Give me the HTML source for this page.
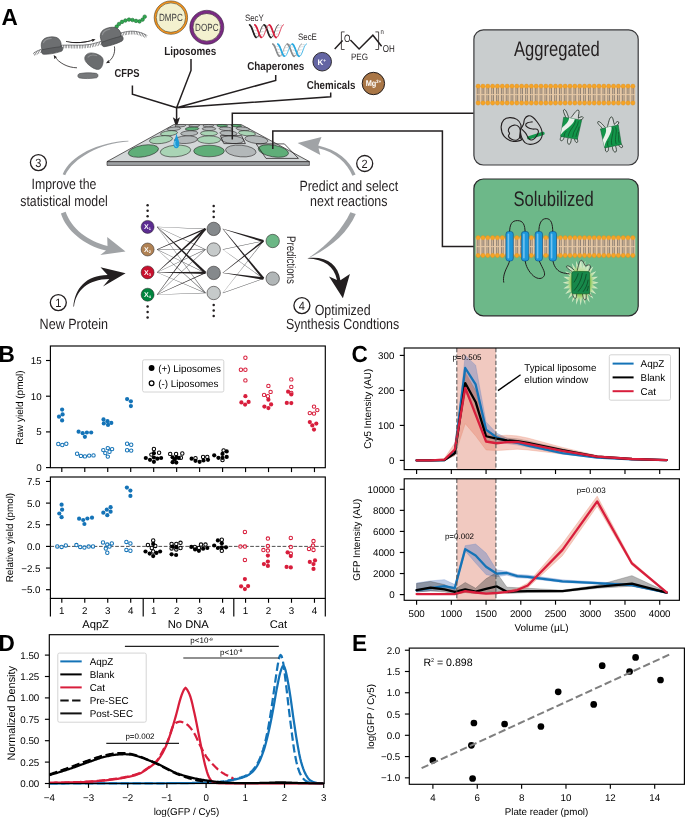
<!DOCTYPE html>
<html lang="en"><head><meta charset="utf-8"><title>Figure</title>
<style>
html,body{margin:0;padding:0;background:#fff;}
body{width:685px;height:818px;overflow:hidden;}
svg{display:block;font-family:"Liberation Sans", sans-serif;will-change:transform;text-rendering:geometricPrecision;}
</style></head><body>
<svg width="685" height="818" viewBox="0 0 685 818">
<rect width="685" height="818" fill="#fff"/>
<text x="0" y="0" font-size="23.3" text-anchor="start" font-weight="bold" fill="#000" transform="translate(1.4 24.5) scale(0.97 1)">A</text>
<path d="M33.9 54.4 C40 50.6 50 47.6 61.5 46.8 C72 46.2 80 47.6 90 46.0 C102 44 110 38.5 121 34.6 C130 31.6 139 32.2 146.6 36.9" stroke="#58595b" stroke-width="3.4" fill="none" stroke-dasharray="0.55 1.05"/>
<path d="M33.9 54.4 C40 50.6 50 47.6 61.5 46.8 C72 46.2 80 47.6 90 46.0 C102 44 110 38.5 121 34.6 C130 31.6 139 32.2 146.6 36.9" stroke="#58595b" stroke-width="0.7" fill="none" transform="translate(0 -1.6)"/>
<circle cx="116.7" cy="26.6" r="1.8" fill="#2fa84f" stroke="#17692f" stroke-width="0.55"/>
<circle cx="119" cy="24" r="1.8" fill="#2fa84f" stroke="#17692f" stroke-width="0.55"/>
<circle cx="122" cy="21.9" r="1.8" fill="#2fa84f" stroke="#17692f" stroke-width="0.55"/>
<circle cx="125.4" cy="20.5" r="1.8" fill="#2fa84f" stroke="#17692f" stroke-width="0.55"/>
<circle cx="129" cy="19.6" r="1.8" fill="#2fa84f" stroke="#17692f" stroke-width="0.55"/>
<circle cx="132.5" cy="20" r="1.8" fill="#2fa84f" stroke="#17692f" stroke-width="0.55"/>
<circle cx="136" cy="20.9" r="1.8" fill="#2fa84f" stroke="#17692f" stroke-width="0.55"/>
<circle cx="139.5" cy="21.4" r="1.8" fill="#2fa84f" stroke="#17692f" stroke-width="0.55"/>
<circle cx="142.6" cy="19.6" r="1.8" fill="#2fa84f" stroke="#17692f" stroke-width="0.55"/>
<circle cx="144.7" cy="16.7" r="1.8" fill="#2fa84f" stroke="#17692f" stroke-width="0.55"/>
<g transform="translate(51.3 46.6) rotate(-5) scale(1)"><path d="M-8.6 1.6 C-4 0.4 4 -0.2 9.6 0.2 C11.8 0.6 11.8 4.8 9.6 5.6 C3 7.2 -4 7.6 -8.4 7.0 C-10.8 6.4 -10.8 2.4 -8.6 1.6 Z" fill="#5f6163" stroke="#414244" stroke-width="0.6"/><path d="M-9.4 2.4 C-10.8 -2.6 -9.6 -8.4 -3.5 -9.4 C1 -10.2 6.4 -9.6 8.6 -6.4 C10.4 -3.8 10.4 -0.6 9.2 1.0 C4 1.0 -4 1.6 -9.4 2.4 Z" fill="#6d6f71" stroke="#414244" stroke-width="0.6"/><path d="M-7.4 -4.6 C-6.4 -7.2 -3 -8.2 0.6 -8.2" stroke="#8f9193" stroke-width="1.1" fill="none" stroke-linecap="round"/></g>
<g transform="translate(111 37.6) rotate(-13) scale(1.04)"><path d="M-8.6 1.6 C-4 0.4 4 -0.2 9.6 0.2 C11.8 0.6 11.8 4.8 9.6 5.6 C3 7.2 -4 7.6 -8.4 7.0 C-10.8 6.4 -10.8 2.4 -8.6 1.6 Z" fill="#5f6163" stroke="#414244" stroke-width="0.6"/><path d="M-9.4 2.4 C-10.8 -2.6 -9.6 -8.4 -3.5 -9.4 C1 -10.2 6.4 -9.6 8.6 -6.4 C10.4 -3.8 10.4 -0.6 9.2 1.0 C4 1.0 -4 1.6 -9.4 2.4 Z" fill="#6d6f71" stroke="#414244" stroke-width="0.6"/><path d="M-7.4 -4.6 C-6.4 -7.2 -3 -8.2 0.6 -8.2" stroke="#8f9193" stroke-width="1.1" fill="none" stroke-linecap="round"/></g>
<path d="M85.6 55.6 C87.5 52.6 91.5 52.4 95.5 53.6 C100 55 103.4 57.2 103.2 61 C103 65 101.5 68.8 98.6 69.4 C95 69.8 90.5 66.6 87.2 63.4 C84.6 60.8 84 58 85.6 55.6 Z" fill="#6a6c6e" stroke="#4a4b4d" stroke-width="0.6"/>
<path d="M88 57.2 C90 54.8 93.6 54.6 96.6 55.6" stroke="#8b8d8f" stroke-width="1.1" fill="none" stroke-linecap="round"/>
<path d="M79.6 73.6 C84 72.6 92 72.6 96.4 73.4 C98.6 74 98.4 77.2 96.4 77.8 C91 78.8 84 78.8 79.4 77.9 C77.2 77.4 77.4 74.2 79.6 73.6 Z" fill="#77797b" stroke="#4a4b4d" stroke-width="0.6"/>
<defs><marker id="ah" viewBox="0 0 10 10" refX="6" refY="5" markerWidth="5.2" markerHeight="5.2" orient="auto"><path d="M0 0.8 L10 5 L0 9.2 L2.6 5 Z" fill="#231f20"/></marker></defs>
<path d="M66.0 41.4 C75 43.6 85 42.8 94.0 39.8" stroke="#231f20" stroke-width="0.8" fill="none" marker-end="url(#ah)"/>
<path d="M66.0 41.2 C75 44.2 85 43.4 93.4 40.0 C85 42.0 75 42.8 66.0 41.2 Z" fill="#231f20"/>
<path d="M114.4 46.4 C115.6 53 112.6 59.4 107.4 62.4" stroke="#231f20" stroke-width="0.8" fill="none" marker-end="url(#ah)"/>
<path d="M77.0 67.8 C67.6 67.6 59 63 54.6 56.4" stroke="#231f20" stroke-width="0.8" fill="none" marker-end="url(#ah)"/>
<text x="0" y="0" font-size="11.6" text-anchor="middle" font-weight="bold" fill="#231f20" transform="translate(127.1 77.4) scale(0.81 1)">CFPS</text>
<circle cx="170.9" cy="17.6" r="15.7" fill="#f3f1cf" stroke="#f7941d" stroke-width="1.9"/>
<circle cx="170.9" cy="17.6" r="16.7" fill="none" stroke="#4a3a1a" stroke-width="0.6"/>
<circle cx="170.9" cy="17.6" r="14.7" fill="none" stroke="#4a3a1a" stroke-width="0.6"/>
<text x="0" y="0" font-size="10.4" text-anchor="middle" font-weight="normal" fill="#414042" transform="translate(170.9 21.2) scale(0.78 1)">DMPC</text>
<circle cx="206.8" cy="27.3" r="15.4" fill="#f3f1cf" stroke="#7a2a83" stroke-width="3"/>
<circle cx="206.8" cy="27.3" r="17" fill="none" stroke="#2a1030" stroke-width="0.6"/>
<circle cx="206.8" cy="27.3" r="13.8" fill="none" stroke="#2a1030" stroke-width="0.6"/>
<text x="0" y="0" font-size="10.4" text-anchor="middle" font-weight="normal" fill="#414042" transform="translate(206.8 31.2) scale(0.78 1)">DOPC</text>
<text x="0" y="0" font-size="11.6" text-anchor="middle" font-weight="bold" fill="#231f20" transform="translate(190.3 54.8) scale(0.85 1)">Liposomes</text>
<text x="0" y="0" font-size="9.3" text-anchor="start" font-weight="normal" fill="#231f20" transform="translate(244.9 21.1) scale(0.85 1)">SecY</text>
<path d="M252.27 26.95 L255.67 27.41 M253.51 29.98 L256.91 30.58 M254.76 33.36 L258.16 33.91 M256 36.13 L259.4 36.49 M258.49 37.16 L261.89 36.91 M259.73 35.12 L263.13 34.63 M260.97 31.99 L264.37 31.39 M262.21 28.64 L265.61 28.1 M263.46 26 L266.86 25.68 M265.94 25.42 L269.34 25.7 M267.19 27.63 L270.59 28.14 M268.43 30.84 L271.83 31.44 M269.67 34.15 L273.07 34.67 M270.91 36.64 L274.31 36.93 M273.4 36.78 L276.8 36.47 M274.64 34.4 L278.04 33.87 M275.89 31.13 L279.29 30.53 M277.13 27.87 L280.53 27.37 M278.37 25.55 L281.77 25.29 " stroke="#6d6e70" stroke-width="0.4" fill="none" stroke-dasharray="0.8 0.6"/><path d="M249.3 24.8 L249.71 24.9 L250.13 25.2 L250.54 25.69 L250.96 26.36 L251.37 27.18 L251.79 28.13 L252.2 29.17 L252.61 30.28 L253.03 31.42 L253.44 32.55 L253.86 33.64 L254.27 34.65 L254.69 35.55 L255.1 36.31 L255.51 36.91 L255.93 37.33 L256.34 37.56 L256.76 37.59 L257.17 37.41 L257.59 37.03 L258 36.47 L258.41 35.75 L258.83 34.88 L259.24 33.89 L259.66 32.82 L260.07 31.69 L260.49 30.55 L260.9 29.43 L261.31 28.37 L261.73 27.4 L262.14 26.54 L262.56 25.84 L262.97 25.3 L263.39 24.96 L263.8 24.81 L264.21 24.86 L264.63 25.11 L265.04 25.56 L265.46 26.18 L265.87 26.97 L266.29 27.89 L266.7 28.91 L267.11 30.01 L267.53 31.14 L267.94 32.28 L268.36 33.38 L268.77 34.41 L269.19 35.34 L269.6 36.14 L270.01 36.78 L270.43 37.25 L270.84 37.52 L271.26 37.6 L271.67 37.47 L272.09 37.14 L272.5 36.62 L272.91 35.94 L273.33 35.1 L273.74 34.14 L274.16 33.08 L274.57 31.97 L274.99 30.83 L275.4 29.7 L275.81 28.62 L276.23 27.62 L276.64 26.74 L277.06 25.99 L277.47 25.42 L277.89 25.02 L278.3 24.82" fill="none" stroke="#231f20" stroke-width="0.85" stroke-linejoin="round" stroke-linecap="round"/><path d="M249.71 24.9 L250.13 25.2 L250.54 25.69 L250.96 26.36 L251.37 27.18 L251.79 28.13 L252.2 29.17 L252.61 30.28 L253.03 31.42 L253.44 32.55 L253.86 33.64 L254.27 34.65 L254.69 35.55 L255.1 36.31 L255.51 36.91 L255.93 37.33" fill="none" stroke="#231f20" stroke-width="1.7" stroke-linejoin="round" stroke-linecap="round"/><path d="M264.21 24.86 L264.63 25.11 L265.04 25.56 L265.46 26.18 L265.87 26.97 L266.29 27.89 L266.7 28.91 L267.11 30.01 L267.53 31.14 L267.94 32.28 L268.36 33.38 L268.77 34.41 L269.19 35.34 L269.6 36.14 L270.01 36.78 L270.43 37.25 L270.84 37.52" fill="none" stroke="#231f20" stroke-width="1.7" stroke-linejoin="round" stroke-linecap="round"/><path d="M254.5 24.8 L254.91 24.9 L255.33 25.2 L255.74 25.69 L256.16 26.36 L256.57 27.18 L256.99 28.13 L257.4 29.17 L257.81 30.28 L258.23 31.42 L258.64 32.55 L259.06 33.64 L259.47 34.65 L259.89 35.55 L260.3 36.31 L260.71 36.91 L261.13 37.33 L261.54 37.56 L261.96 37.59 L262.37 37.41 L262.79 37.03 L263.2 36.47 L263.61 35.75 L264.03 34.88 L264.44 33.89 L264.86 32.82 L265.27 31.69 L265.69 30.55 L266.1 29.43 L266.51 28.37 L266.93 27.4 L267.34 26.54 L267.76 25.84 L268.17 25.3 L268.59 24.96 L269 24.81 L269.41 24.86 L269.83 25.11 L270.24 25.56 L270.66 26.18 L271.07 26.97 L271.49 27.89 L271.9 28.91 L272.31 30.01 L272.73 31.14 L273.14 32.28 L273.56 33.38 L273.97 34.41 L274.39 35.34 L274.8 36.14 L275.21 36.78 L275.63 37.25 L276.04 37.52 L276.46 37.6 L276.87 37.47 L277.29 37.14 L277.7 36.62 L278.11 35.94 L278.53 35.1 L278.94 34.14 L279.36 33.08 L279.77 31.97 L280.19 30.83 L280.6 29.7 L281.01 28.62 L281.43 27.62 L281.84 26.74 L282.26 25.99 L282.67 25.42 L283.09 25.02 L283.5 24.82" fill="none" stroke="#d81e3c" stroke-width="0.85" stroke-linejoin="round" stroke-linecap="round"/><path d="M254.91 24.9 L255.33 25.2 L255.74 25.69 L256.16 26.36 L256.57 27.18 L256.99 28.13 L257.4 29.17 L257.81 30.28 L258.23 31.42 L258.64 32.55 L259.06 33.64 L259.47 34.65 L259.89 35.55 L260.3 36.31 L260.71 36.91 L261.13 37.33" fill="none" stroke="#d81e3c" stroke-width="1.7" stroke-linejoin="round" stroke-linecap="round"/><path d="M269.41 24.86 L269.83 25.11 L270.24 25.56 L270.66 26.18 L271.07 26.97 L271.49 27.89 L271.9 28.91 L272.31 30.01 L272.73 31.14 L273.14 32.28 L273.56 33.38 L273.97 34.41 L274.39 35.34 L274.8 36.14 L275.21 36.78 L275.63 37.25 L276.04 37.52" fill="none" stroke="#d81e3c" stroke-width="1.7" stroke-linejoin="round" stroke-linecap="round"/>
<text x="0" y="0" font-size="9.3" text-anchor="start" font-weight="normal" fill="#231f20" transform="translate(298 39.8) scale(0.85 1)">SecE</text>
<path d="M275.47 46.07 L278.67 46.54 M276.71 49.01 L279.91 49.6 M277.96 52.28 L281.16 52.84 M279.2 54.97 L282.4 55.33 M281.69 55.97 L284.89 55.73 M282.93 54.01 L286.13 53.51 M284.17 50.98 L287.37 50.38 M285.41 47.73 L288.61 47.19 M286.66 45.17 L289.86 44.84 M289.14 44.59 L292.34 44.88 M290.39 46.73 L293.59 47.25 M291.63 49.84 L294.83 50.44 M292.87 53.05 L296.07 53.57 M294.11 55.46 L297.31 55.76 M296.6 55.61 L299.8 55.3 M297.84 53.31 L301.04 52.78 M299.09 50.14 L302.29 49.54 M300.33 46.98 L303.53 46.48 M301.57 44.73 L304.77 44.47 " stroke="#6d6e70" stroke-width="0.4" fill="none" stroke-dasharray="0.8 0.6"/><path d="M272.5 44 L272.91 44.1 L273.33 44.39 L273.74 44.87 L274.16 45.51 L274.57 46.3 L274.99 47.22 L275.4 48.23 L275.81 49.31 L276.23 50.41 L276.64 51.51 L277.06 52.56 L277.47 53.54 L277.89 54.41 L278.3 55.15 L278.71 55.74 L279.13 56.14 L279.54 56.36 L279.96 56.39 L280.37 56.21 L280.79 55.85 L281.2 55.31 L281.61 54.6 L282.03 53.76 L282.44 52.8 L282.86 51.76 L283.27 50.68 L283.69 49.57 L284.1 48.49 L284.51 47.46 L284.93 46.52 L285.34 45.69 L285.76 45.01 L286.17 44.49 L286.59 44.15 L287 44.01 L287.41 44.06 L287.83 44.3 L288.24 44.73 L288.66 45.34 L289.07 46.1 L289.49 46.99 L289.9 47.98 L290.31 49.04 L290.73 50.14 L291.14 51.24 L291.56 52.31 L291.97 53.31 L292.39 54.21 L292.8 54.99 L293.21 55.61 L293.63 56.06 L294.04 56.33 L294.46 56.4 L294.87 56.27 L295.29 55.96 L295.7 55.45 L296.11 54.79 L296.53 53.98 L296.94 53.04 L297.36 52.02 L297.77 50.94 L298.19 49.84 L298.6 48.75 L299.01 47.7 L299.43 46.73 L299.84 45.88 L300.26 45.16 L300.67 44.6 L301.09 44.22 L301.5 44.02" fill="none" stroke="#8a8c8e" stroke-width="0.85" stroke-linejoin="round" stroke-linecap="round"/><path d="M272.91 44.1 L273.33 44.39 L273.74 44.87 L274.16 45.51 L274.57 46.3 L274.99 47.22 L275.4 48.23 L275.81 49.31 L276.23 50.41 L276.64 51.51 L277.06 52.56 L277.47 53.54 L277.89 54.41 L278.3 55.15 L278.71 55.74 L279.13 56.14" fill="none" stroke="#8a8c8e" stroke-width="1.7" stroke-linejoin="round" stroke-linecap="round"/><path d="M287.41 44.06 L287.83 44.3 L288.24 44.73 L288.66 45.34 L289.07 46.1 L289.49 46.99 L289.9 47.98 L290.31 49.04 L290.73 50.14 L291.14 51.24 L291.56 52.31 L291.97 53.31 L292.39 54.21 L292.8 54.99 L293.21 55.61 L293.63 56.06 L294.04 56.33" fill="none" stroke="#8a8c8e" stroke-width="1.7" stroke-linejoin="round" stroke-linecap="round"/><path d="M277.5 44 L277.91 44.1 L278.33 44.39 L278.74 44.87 L279.16 45.51 L279.57 46.3 L279.99 47.22 L280.4 48.23 L280.81 49.31 L281.23 50.41 L281.64 51.51 L282.06 52.56 L282.47 53.54 L282.89 54.41 L283.3 55.15 L283.71 55.74 L284.13 56.14 L284.54 56.36 L284.96 56.39 L285.37 56.21 L285.79 55.85 L286.2 55.31 L286.61 54.6 L287.03 53.76 L287.44 52.8 L287.86 51.76 L288.27 50.68 L288.69 49.57 L289.1 48.49 L289.51 47.46 L289.93 46.52 L290.34 45.69 L290.76 45.01 L291.17 44.49 L291.59 44.15 L292 44.01 L292.41 44.06 L292.83 44.3 L293.24 44.73 L293.66 45.34 L294.07 46.1 L294.49 46.99 L294.9 47.98 L295.31 49.04 L295.73 50.14 L296.14 51.24 L296.56 52.31 L296.97 53.31 L297.39 54.21 L297.8 54.99 L298.21 55.61 L298.63 56.06 L299.04 56.33 L299.46 56.4 L299.87 56.27 L300.29 55.96 L300.7 55.45 L301.11 54.79 L301.53 53.98 L301.94 53.04 L302.36 52.02 L302.77 50.94 L303.19 49.84 L303.6 48.75 L304.01 47.7 L304.43 46.73 L304.84 45.88 L305.26 45.16 L305.67 44.6 L306.09 44.22 L306.5 44.02" fill="none" stroke="#27a9e1" stroke-width="0.85" stroke-linejoin="round" stroke-linecap="round"/><path d="M277.91 44.1 L278.33 44.39 L278.74 44.87 L279.16 45.51 L279.57 46.3 L279.99 47.22 L280.4 48.23 L280.81 49.31 L281.23 50.41 L281.64 51.51 L282.06 52.56 L282.47 53.54 L282.89 54.41 L283.3 55.15 L283.71 55.74 L284.13 56.14" fill="none" stroke="#27a9e1" stroke-width="1.7" stroke-linejoin="round" stroke-linecap="round"/><path d="M292.41 44.06 L292.83 44.3 L293.24 44.73 L293.66 45.34 L294.07 46.1 L294.49 46.99 L294.9 47.98 L295.31 49.04 L295.73 50.14 L296.14 51.24 L296.56 52.31 L296.97 53.31 L297.39 54.21 L297.8 54.99 L298.21 55.61 L298.63 56.06 L299.04 56.33" fill="none" stroke="#27a9e1" stroke-width="1.7" stroke-linejoin="round" stroke-linecap="round"/>
<text x="0" y="0" font-size="11.6" text-anchor="middle" font-weight="bold" fill="#231f20" transform="translate(275.7 69.8) scale(0.85 1)">Chaperones</text>
<circle cx="322.2" cy="61.7" r="9.3" fill="#6465a3" stroke="#231f20" stroke-width="0.9"/>
<text x="321.8" y="64.8" font-size="8" text-anchor="middle" font-weight="bold" fill="#fff">K<tspan font-size="4.6" dy="-2.8">+</tspan></text>
<circle cx="373.4" cy="83.5" r="11.2" fill="#a97646" stroke="#231f20" stroke-width="1"/>
<text x="0" y="0" font-size="8.2" text-anchor="middle" font-weight="bold" fill="#fff" transform="translate(373.4 86.2) scale(0.9 1)">Mg<tspan font-size="4.6" dy="-2.8">2+</tspan></text>
<text x="0" y="0" font-size="11.6" text-anchor="middle" font-weight="bold" fill="#231f20" transform="translate(331 89.2) scale(0.84 1)">Chemicals</text>
<path d="M334.7 49 L342.6 40.4 M350.4 40 L359.1 49 L372.9 35.2 L381.6 46.2" stroke="#231f20" stroke-width="1.45" fill="none" stroke-linejoin="miter"/>
<path d="M344.6 31.9 H341.4 V49.5 H344.6 M375.4 31.9 H378.6 V49.5 H375.4" stroke="#231f20" stroke-width="0.8" fill="none"/>
<text x="0" y="0" font-size="10.6" text-anchor="middle" font-weight="normal" fill="#231f20" transform="translate(347.3 42) scale(0.78 1)">O</text>
<text x="0" y="0" font-size="10" text-anchor="start" font-weight="normal" fill="#231f20" transform="translate(382.8 52.2) scale(0.8 1)">OH</text>
<text x="0" y="0" font-size="7" text-anchor="start" font-weight="normal" fill="#231f20" transform="translate(380.6 34) scale(0.85 1)">n</text>
<text x="0" y="0" font-size="9.2" text-anchor="middle" font-weight="normal" fill="#231f20" transform="translate(359.5 59.8) scale(0.88 1)">PEG</text>
<path d="M132.4 85.4 V94.2 L176.6 107.8 M191 59 V70.4 L176.6 107.8 M275.7 74.9 V80.4 L176.6 107.8 M330.7 92.5 V96.7 L176.6 107.8 V121" stroke="#231f20" stroke-width="1.5" fill="none" stroke-linejoin="miter"/>
<path d="M176.4 127.8 L172.8 117.2 L176.4 119.4 L180.0 117.2 Z" fill="#231f20"/>
<path d="M107 161.6 H309.4 V165.4 H107 Z" fill="#9da1a3" stroke="#231f20" stroke-width="0.6"/>
<path d="M107 161.6 L173.9 124.6 H241.3 L309.4 161.6 Z" fill="#d3d7d8" stroke="#231f20" stroke-width="0.7" stroke-linejoin="round"/>
<ellipse cx="180.3" cy="125.7" rx="5.4" ry="1.25" fill="#b3b8b9" stroke="#231f20" stroke-width="0.55" transform="rotate(-4.18 180.3 125.7)"/>
<ellipse cx="194.1" cy="125.7" rx="5.4" ry="1.25" fill="#b3b8b9" stroke="#231f20" stroke-width="0.55" transform="rotate(-2.11 194.1 125.7)"/>
<ellipse cx="208.3" cy="125.7" rx="5.4" ry="1.25" fill="#b3b8b9" stroke="#231f20" stroke-width="0.55" transform="rotate(0.02 208.3 125.7)"/>
<ellipse cx="222.2" cy="125.7" rx="5.4" ry="1.25" fill="#5fae78" stroke="#231f20" stroke-width="0.55" transform="rotate(2.1 222.2 125.7)"/>
<ellipse cx="236.3" cy="125.7" rx="5.4" ry="1.25" fill="#5fae78" stroke="#231f20" stroke-width="0.55" transform="rotate(4.22 236.3 125.7)"/>
<ellipse cx="173.9" cy="128.8" rx="6.8" ry="1.75" fill="#b3b8b9" stroke="#231f20" stroke-width="0.55" transform="rotate(-5.14 173.9 128.8)"/>
<ellipse cx="192" cy="128.8" rx="6.8" ry="1.75" fill="#5fae78" stroke="#231f20" stroke-width="0.55" transform="rotate(-2.43 192 128.8)"/>
<ellipse cx="209" cy="128.8" rx="6.8" ry="1.75" fill="#b3b8b9" stroke="#231f20" stroke-width="0.55" transform="rotate(0.12 209 128.8)"/>
<ellipse cx="226" cy="128.8" rx="6.8" ry="1.75" fill="#b3b8b9" stroke="#231f20" stroke-width="0.55" transform="rotate(2.67 226 128.8)"/>
<ellipse cx="242.9" cy="128.8" rx="6.8" ry="1.75" fill="#b3b8b9" stroke="#231f20" stroke-width="0.55" transform="rotate(5.21 242.9 128.8)"/>
<ellipse cx="169" cy="133.3" rx="8.6" ry="2.5" fill="#a9d4b5" stroke="#231f20" stroke-width="0.55" transform="rotate(-5.88 169 133.3)"/>
<ellipse cx="189.3" cy="133.3" rx="8.6" ry="2.5" fill="#b3b8b9" stroke="#231f20" stroke-width="0.55" transform="rotate(-2.83 189.3 133.3)"/>
<ellipse cx="209" cy="133.3" rx="8.6" ry="2.5" fill="#a9d4b5" stroke="#231f20" stroke-width="0.55" transform="rotate(0.12 209 133.3)"/>
<ellipse cx="228.5" cy="133.3" rx="8.6" ry="2.5" fill="#b3b8b9" stroke="#231f20" stroke-width="0.55" transform="rotate(3.05 228.5 133.3)"/>
<ellipse cx="247" cy="133.3" rx="8.6" ry="2.5" fill="#a9d4b5" stroke="#231f20" stroke-width="0.55" transform="rotate(5.82 247 133.3)"/>
<ellipse cx="161" cy="139.7" rx="11.6" ry="3.8" fill="#a9d4b5" stroke="#231f20" stroke-width="0.55" transform="rotate(-7.08 161 139.7)"/>
<ellipse cx="186" cy="139.7" rx="11.6" ry="3.8" fill="#b3b8b9" stroke="#231f20" stroke-width="0.55" transform="rotate(-3.33 186 139.7)"/>
<ellipse cx="209" cy="139.7" rx="11.6" ry="3.8" fill="#a9d4b5" stroke="#231f20" stroke-width="0.55" transform="rotate(0.12 209 139.7)"/>
<ellipse cx="232.3" cy="139.7" rx="11.6" ry="3.8" fill="#b3b8b9" stroke="#231f20" stroke-width="0.55" transform="rotate(3.62 232.3 139.7)"/>
<ellipse cx="256.4" cy="139.7" rx="11.6" ry="3.8" fill="#b3b8b9" stroke="#231f20" stroke-width="0.55" transform="rotate(7.23 256.4 139.7)"/>
<ellipse cx="143.4" cy="151" rx="15.3" ry="5.8" fill="#5fae78" stroke="#231f20" stroke-width="0.55" transform="rotate(-9.72 143.4 151)"/>
<ellipse cx="175.5" cy="151" rx="15.3" ry="5.8" fill="#a9d4b5" stroke="#231f20" stroke-width="0.55" transform="rotate(-4.9 175.5 151)"/>
<ellipse cx="209" cy="151" rx="15.3" ry="5.8" fill="#5fae78" stroke="#231f20" stroke-width="0.55" transform="rotate(0.12 209 151)"/>
<ellipse cx="240.8" cy="151" rx="15.3" ry="5.8" fill="#b3b8b9" stroke="#231f20" stroke-width="0.55" transform="rotate(4.89 240.8 151)"/>
<ellipse cx="273.4" cy="151" rx="15.3" ry="5.8" fill="#5fae78" stroke="#231f20" stroke-width="0.55" transform="rotate(9.78 273.4 151)"/>
<path d="M220.4 135.7 H241.6 L245.4 143.6 H223.8 Z" fill="none" stroke="#231f20" stroke-width="0.75"/>
<path d="M256.2 143.9 H284.4 L298.4 158.4 H266.0 Z" fill="none" stroke="#231f20" stroke-width="0.75"/>
<path d="M176.5 133.6 C177.4 137.6 179.5 141 179.3 144.4 C179.1 146.6 178.0 148.2 176.4 148.2 C174.6 148.2 173.4 146.6 173.5 144.2 C173.7 141 175.7 137.8 176.5 133.6 Z" fill="#1c9ad6"/>
<path d="M175.0 141.5 C174.4 143.4 174.6 145.6 176.0 146.6" stroke="#9fdcf5" stroke-width="0.9" fill="none" stroke-linecap="round"/>
<path d="M232.3 139.4 V113.3 H473.7" stroke="#231f20" stroke-width="1.5" fill="none"/>
<path d="M272.8 149.0 V130.9 H442.4 V246.6 H473.7" stroke="#231f20" stroke-width="1.5" fill="none"/>
<path d="M128.4 140.7 C98 141.9 70 156 62.7 174.2 L65.2 175.2 C73.4 158 100 143.2 128.4 141.5 Z" fill="#a0a3a6"/>
<path d="M60.9 213.4 C66 230 84 245.4 106.0 250.5 L100.3 255.1 L125.5 251.4 L107.2 237.1 L107.5 245.9 C88 241.4 71.4 228.6 65.6 211.8 Z" fill="#a0a3a6"/>
<path d="M74.0 306.8 C76 290 88 279.4 109.3 279.0 L103 286.6 L125.6 273.3 L100.5 267.2 L107.6 275.0 C86 275 74.6 289 73.4 306.6 Z" fill="#231f20"/>
<path d="M350.4 212.2 L355.8 214.0 C348 232.6 330 248.4 307.7 258.5 C327 245.4 342 230 350.4 212.2 Z" fill="#a0a3a6"/>
<path d="M352.4 175.8 C347 162.4 335 152.2 318.6 148.2 L320.3 155.1 L297.6 143.1 L321.5 137 L318.2 145.4 C337 149.6 350 160.4 355.6 174.6 Z" fill="#a0a3a6"/>
<path d="M307.7 258.2 C326 256 338 264 340.4 280.3 L349.9 274 L342.9 298.3 L329 276.5 L337.0 280.0 C334 266 324 259.4 307.7 258.6 Z" fill="#231f20"/>
<circle cx="38.4" cy="162.6" r="8" fill="#fff" stroke="#231f20" stroke-width="1.3"/><text x="0" y="0" font-size="12" text-anchor="middle" font-weight="normal" fill="#231f20" transform="translate(38.4 166.8) scale(0.92 1)">3</text>
<text x="0" y="0" font-size="14.8" text-anchor="middle" font-weight="normal" fill="#231f20" transform="translate(64 189) scale(0.83 1)">Improve the</text>
<text x="0" y="0" font-size="14.8" text-anchor="middle" font-weight="normal" fill="#231f20" transform="translate(64 205.8) scale(0.83 1)">statistical model</text>
<circle cx="58.3" cy="302.6" r="8" fill="#fff" stroke="#231f20" stroke-width="1.3"/><text x="0" y="0" font-size="12" text-anchor="middle" font-weight="normal" fill="#231f20" transform="translate(58.3 306.8) scale(0.92 1)">1</text>
<text x="0" y="0" font-size="14.8" text-anchor="middle" font-weight="normal" fill="#231f20" transform="translate(73.8 328.6) scale(0.85 1)">New Protein</text>
<circle cx="364.7" cy="163.5" r="8" fill="#fff" stroke="#231f20" stroke-width="1.3"/><text x="0" y="0" font-size="12" text-anchor="middle" font-weight="normal" fill="#231f20" transform="translate(364.7 167.7) scale(0.92 1)">2</text>
<text x="0" y="0" font-size="14.8" text-anchor="middle" font-weight="normal" fill="#231f20" transform="translate(348.8 191.2) scale(0.84 1)">Predict and select</text>
<text x="0" y="0" font-size="14.8" text-anchor="middle" font-weight="normal" fill="#231f20" transform="translate(348.8 205.8) scale(0.84 1)">next reactions</text>
<circle cx="301.9" cy="305.6" r="8" fill="#fff" stroke="#231f20" stroke-width="1.3"/><text x="0" y="0" font-size="12" text-anchor="middle" font-weight="normal" fill="#231f20" transform="translate(301.9 309.8) scale(0.92 1)">4</text>
<text x="0" y="0" font-size="14.8" text-anchor="middle" font-weight="normal" fill="#231f20" transform="translate(342.6 314.8) scale(0.84 1)">Optimized</text>
<text x="0" y="0" font-size="14.8" text-anchor="middle" font-weight="normal" fill="#231f20" transform="translate(342.6 329.3) scale(0.84 1)">Synthesis Condtions</text>
<path d="M157.09 227.04 L205.39 229.15 L205.41 228.65 L157.11 226.76 Z" fill="#58595b"/>
<path d="M157.04 227.03 L205.29 249.73 L205.51 249.27 L157.16 226.77 Z" fill="#58595b"/>
<path d="M156.99 226.98 L205.2 293.15 L205.6 292.85 L157.21 226.82 Z" fill="#58595b"/>
<path d="M157.1 249.64 L205.4 249.75 L205.4 249.25 L157.1 249.36 Z" fill="#58595b"/>
<path d="M157.05 272.53 L205.3 293.23 L205.5 292.77 L157.15 272.27 Z" fill="#58595b"/>
<path d="M157.2 294.8 L205.57 249.68 L205.23 249.32 L157 294.6 Z" fill="#58595b"/>
<path d="M157.1 294.84 L205.41 293.25 L205.39 292.75 L157.1 294.56 Z" fill="#58595b"/>
<path d="M157.04 249.63 L205.27 273.17 L205.53 272.63 L157.16 249.37 Z" fill="#58595b"/>
<path d="M157.01 249.6 L205.2 293.22 L205.6 292.78 L157.19 249.4 Z" fill="#58595b"/>
<path d="M157.16 272.53 L205.53 249.77 L205.27 249.23 L157.04 272.27 Z" fill="#58595b"/>
<path d="M157.16 294.83 L205.59 273.31 L205.21 272.49 L157.04 294.57 Z" fill="#231f20"/>
<path d="M157.21 294.78 L205.96 229.31 L204.84 228.49 L156.99 294.62 Z" fill="#231f20"/>
<path d="M157.15 249.63 L205.69 229.59 L205.11 228.21 L157.05 249.37 Z" fill="#231f20"/>
<path d="M157.1 272.54 L205.39 274.05 L205.41 271.75 L157.1 272.26 Z" fill="#231f20"/>
<path d="M157 227 L204.54 273.81 L206.26 271.99 L157.2 226.8 Z" fill="#231f20"/>
<path d="M157.19 272.5 L206.24 229.83 L204.56 227.97 L157.01 272.3 Z" fill="#231f20"/>
<path d="M222.83 249.64 L263.45 241.24 L263.35 240.76 L222.77 249.36 Z" fill="#58595b"/>
<path d="M222.72 249.61 L263.25 278.8 L263.55 278.4 L222.88 249.39 Z" fill="#58595b"/>
<path d="M222.91 293.09 L263.6 241.15 L263.2 240.85 L222.69 292.91 Z" fill="#58595b"/>
<path d="M222.85 293.13 L263.48 278.84 L263.32 278.36 L222.75 292.87 Z" fill="#58595b"/>
<path d="M222.89 273.01 L263.89 241.63 L262.91 240.37 L222.71 272.79 Z" fill="#231f20"/>
<path d="M222.76 229.03 L263.07 242.1 L263.73 239.9 L222.84 228.77 Z" fill="#231f20"/>
<path d="M222.69 228.99 L262.51 279.33 L264.29 277.87 L222.91 228.81 Z" fill="#231f20"/>
<path d="M222.78 273.04 L263.23 279.84 L263.57 277.36 L222.82 272.76 Z" fill="#231f20"/>
<circle cx="147.6" cy="226.9" r="6.5" fill="#5c2d91" stroke="#231f20" stroke-width="0.5"/>
<text x="0" y="0" font-size="7" text-anchor="middle" font-weight="bold" fill="#fff" transform="translate(147.4 229.4) scale(1 1)">X<tspan font-size="3.8" dy="0.9">1</tspan></text>
<circle cx="147.6" cy="249.5" r="6.5" fill="#b08254" stroke="#231f20" stroke-width="0.5"/>
<text x="0" y="0" font-size="7" text-anchor="middle" font-weight="bold" fill="#fff" transform="translate(147.4 252) scale(1 1)">X<tspan font-size="3.8" dy="0.9">2</tspan></text>
<circle cx="147.6" cy="272.4" r="6.5" fill="#c8102e" stroke="#231f20" stroke-width="0.5"/>
<text x="0" y="0" font-size="7" text-anchor="middle" font-weight="bold" fill="#fff" transform="translate(147.4 274.9) scale(1 1)">X<tspan font-size="3.8" dy="0.9">3</tspan></text>
<circle cx="147.6" cy="294.7" r="6.5" fill="#00853e" stroke="#231f20" stroke-width="0.5"/>
<text x="0" y="0" font-size="7" text-anchor="middle" font-weight="bold" fill="#fff" transform="translate(147.4 297.2) scale(1 1)">X<tspan font-size="3.8" dy="0.9">4</tspan></text>
<circle cx="213.7" cy="228.9" r="6.7" fill="#85898c" stroke="#231f20" stroke-width="0.55"/>
<circle cx="213.7" cy="249.5" r="6.7" fill="#c6caca" stroke="#231f20" stroke-width="0.55"/>
<circle cx="213.7" cy="272.9" r="6.7" fill="#85898c" stroke="#231f20" stroke-width="0.55"/>
<circle cx="213.7" cy="293" r="6.7" fill="#c6caca" stroke="#231f20" stroke-width="0.55"/>
<circle cx="272.7" cy="241" r="6.7" fill="#6cb786" stroke="#231f20" stroke-width="0.55"/>
<circle cx="272.7" cy="278.6" r="6.7" fill="#b1b6b7" stroke="#231f20" stroke-width="0.55"/>
<circle cx="147.6" cy="205.3" r="1.25" fill="#231f20" stroke="none" stroke-width="1"/>
<circle cx="147.6" cy="210.8" r="1.25" fill="#231f20" stroke="none" stroke-width="1"/>
<circle cx="147.6" cy="216.2" r="1.25" fill="#231f20" stroke="none" stroke-width="1"/>
<circle cx="147.6" cy="306.6" r="1.25" fill="#231f20" stroke="none" stroke-width="1"/>
<circle cx="147.6" cy="312.1" r="1.25" fill="#231f20" stroke="none" stroke-width="1"/>
<circle cx="147.6" cy="317.6" r="1.25" fill="#231f20" stroke="none" stroke-width="1"/>
<circle cx="213.7" cy="206" r="1.25" fill="#231f20" stroke="none" stroke-width="1"/>
<circle cx="213.7" cy="211.5" r="1.25" fill="#231f20" stroke="none" stroke-width="1"/>
<circle cx="213.7" cy="217" r="1.25" fill="#231f20" stroke="none" stroke-width="1"/>
<circle cx="213.7" cy="305" r="1.25" fill="#231f20" stroke="none" stroke-width="1"/>
<circle cx="213.7" cy="310.5" r="1.25" fill="#231f20" stroke="none" stroke-width="1"/>
<circle cx="213.7" cy="316" r="1.25" fill="#231f20" stroke="none" stroke-width="1"/>
<text x="0" y="0" font-size="12.4" text-anchor="middle" font-weight="normal" fill="#231f20" transform="translate(286.6 259.9) rotate(90) scale(0.78 1)">Predictions</text>
<rect x="473.9" y="29.8" width="164.3" height="135.2" fill="#c9cdce" stroke="#3a3a3c" stroke-width="1.2" rx="9.5"/>
<text x="0" y="0" font-size="21" text-anchor="middle" font-weight="normal" fill="#231f20" transform="translate(556.8 55.6) scale(0.79 1)">Aggregated</text>
<rect x="475.7" y="86.1" width="159.6" height="17" fill="#e4c7a5"/><path d="M477.27 87.9 V94.1 M477.27 95.1 V101.3 M478.97 87.9 V94.1 M478.97 95.1 V101.3 M482.1 87.9 V94.1 M482.1 95.1 V101.3 M483.8 87.9 V94.1 M483.8 95.1 V101.3 M486.94 87.9 V94.1 M486.94 95.1 V101.3 M488.64 87.9 V94.1 M488.64 95.1 V101.3 M491.78 87.9 V94.1 M491.78 95.1 V101.3 M493.48 87.9 V94.1 M493.48 95.1 V101.3 M496.61 87.9 V94.1 M496.61 95.1 V101.3 M498.31 87.9 V94.1 M498.31 95.1 V101.3 M501.45 87.9 V94.1 M501.45 95.1 V101.3 M503.15 87.9 V94.1 M503.15 95.1 V101.3 M506.29 87.9 V94.1 M506.29 95.1 V101.3 M507.99 87.9 V94.1 M507.99 95.1 V101.3 M511.12 87.9 V94.1 M511.12 95.1 V101.3 M512.82 87.9 V94.1 M512.82 95.1 V101.3 M515.96 87.9 V94.1 M515.96 95.1 V101.3 M517.66 87.9 V94.1 M517.66 95.1 V101.3 M520.8 87.9 V94.1 M520.8 95.1 V101.3 M522.5 87.9 V94.1 M522.5 95.1 V101.3 M525.63 87.9 V94.1 M525.63 95.1 V101.3 M527.33 87.9 V94.1 M527.33 95.1 V101.3 M530.47 87.9 V94.1 M530.47 95.1 V101.3 M532.17 87.9 V94.1 M532.17 95.1 V101.3 M535.3 87.9 V94.1 M535.3 95.1 V101.3 M537 87.9 V94.1 M537 95.1 V101.3 M540.14 87.9 V94.1 M540.14 95.1 V101.3 M541.84 87.9 V94.1 M541.84 95.1 V101.3 M544.98 87.9 V94.1 M544.98 95.1 V101.3 M546.68 87.9 V94.1 M546.68 95.1 V101.3 M549.81 87.9 V94.1 M549.81 95.1 V101.3 M551.51 87.9 V94.1 M551.51 95.1 V101.3 M554.65 87.9 V94.1 M554.65 95.1 V101.3 M556.35 87.9 V94.1 M556.35 95.1 V101.3 M559.49 87.9 V94.1 M559.49 95.1 V101.3 M561.19 87.9 V94.1 M561.19 95.1 V101.3 M564.32 87.9 V94.1 M564.32 95.1 V101.3 M566.02 87.9 V94.1 M566.02 95.1 V101.3 M569.16 87.9 V94.1 M569.16 95.1 V101.3 M570.86 87.9 V94.1 M570.86 95.1 V101.3 M574 87.9 V94.1 M574 95.1 V101.3 M575.7 87.9 V94.1 M575.7 95.1 V101.3 M578.83 87.9 V94.1 M578.83 95.1 V101.3 M580.53 87.9 V94.1 M580.53 95.1 V101.3 M583.67 87.9 V94.1 M583.67 95.1 V101.3 M585.37 87.9 V94.1 M585.37 95.1 V101.3 M588.5 87.9 V94.1 M588.5 95.1 V101.3 M590.2 87.9 V94.1 M590.2 95.1 V101.3 M593.34 87.9 V94.1 M593.34 95.1 V101.3 M595.04 87.9 V94.1 M595.04 95.1 V101.3 M598.18 87.9 V94.1 M598.18 95.1 V101.3 M599.88 87.9 V94.1 M599.88 95.1 V101.3 M603.01 87.9 V94.1 M603.01 95.1 V101.3 M604.71 87.9 V94.1 M604.71 95.1 V101.3 M607.85 87.9 V94.1 M607.85 95.1 V101.3 M609.55 87.9 V94.1 M609.55 95.1 V101.3 M612.69 87.9 V94.1 M612.69 95.1 V101.3 M614.39 87.9 V94.1 M614.39 95.1 V101.3 M617.52 87.9 V94.1 M617.52 95.1 V101.3 M619.22 87.9 V94.1 M619.22 95.1 V101.3 M622.36 87.9 V94.1 M622.36 95.1 V101.3 M624.06 87.9 V94.1 M624.06 95.1 V101.3 M627.2 87.9 V94.1 M627.2 95.1 V101.3 M628.9 87.9 V94.1 M628.9 95.1 V101.3 M632.03 87.9 V94.1 M632.03 95.1 V101.3 M633.73 87.9 V94.1 M633.73 95.1 V101.3 " stroke="#6e6560" stroke-width="0.7" fill="none"/><circle cx="478.12" cy="86.2" r="2.15" fill="#f5a426" stroke="#d98c1c" stroke-width="0.35"/><circle cx="478.12" cy="103" r="2.15" fill="#f5a426" stroke="#d98c1c" stroke-width="0.35"/><circle cx="482.95" cy="86.2" r="2.15" fill="#f5a426" stroke="#d98c1c" stroke-width="0.35"/><circle cx="482.95" cy="103" r="2.15" fill="#f5a426" stroke="#d98c1c" stroke-width="0.35"/><circle cx="487.79" cy="86.2" r="2.15" fill="#f5a426" stroke="#d98c1c" stroke-width="0.35"/><circle cx="487.79" cy="103" r="2.15" fill="#f5a426" stroke="#d98c1c" stroke-width="0.35"/><circle cx="492.63" cy="86.2" r="2.15" fill="#f5a426" stroke="#d98c1c" stroke-width="0.35"/><circle cx="492.63" cy="103" r="2.15" fill="#f5a426" stroke="#d98c1c" stroke-width="0.35"/><circle cx="497.46" cy="86.2" r="2.15" fill="#f5a426" stroke="#d98c1c" stroke-width="0.35"/><circle cx="497.46" cy="103" r="2.15" fill="#f5a426" stroke="#d98c1c" stroke-width="0.35"/><circle cx="502.3" cy="86.2" r="2.15" fill="#f5a426" stroke="#d98c1c" stroke-width="0.35"/><circle cx="502.3" cy="103" r="2.15" fill="#f5a426" stroke="#d98c1c" stroke-width="0.35"/><circle cx="507.14" cy="86.2" r="2.15" fill="#f5a426" stroke="#d98c1c" stroke-width="0.35"/><circle cx="507.14" cy="103" r="2.15" fill="#f5a426" stroke="#d98c1c" stroke-width="0.35"/><circle cx="511.97" cy="86.2" r="2.15" fill="#f5a426" stroke="#d98c1c" stroke-width="0.35"/><circle cx="511.97" cy="103" r="2.15" fill="#f5a426" stroke="#d98c1c" stroke-width="0.35"/><circle cx="516.81" cy="86.2" r="2.15" fill="#f5a426" stroke="#d98c1c" stroke-width="0.35"/><circle cx="516.81" cy="103" r="2.15" fill="#f5a426" stroke="#d98c1c" stroke-width="0.35"/><circle cx="521.65" cy="86.2" r="2.15" fill="#f5a426" stroke="#d98c1c" stroke-width="0.35"/><circle cx="521.65" cy="103" r="2.15" fill="#f5a426" stroke="#d98c1c" stroke-width="0.35"/><circle cx="526.48" cy="86.2" r="2.15" fill="#f5a426" stroke="#d98c1c" stroke-width="0.35"/><circle cx="526.48" cy="103" r="2.15" fill="#f5a426" stroke="#d98c1c" stroke-width="0.35"/><circle cx="531.32" cy="86.2" r="2.15" fill="#f5a426" stroke="#d98c1c" stroke-width="0.35"/><circle cx="531.32" cy="103" r="2.15" fill="#f5a426" stroke="#d98c1c" stroke-width="0.35"/><circle cx="536.15" cy="86.2" r="2.15" fill="#f5a426" stroke="#d98c1c" stroke-width="0.35"/><circle cx="536.15" cy="103" r="2.15" fill="#f5a426" stroke="#d98c1c" stroke-width="0.35"/><circle cx="540.99" cy="86.2" r="2.15" fill="#f5a426" stroke="#d98c1c" stroke-width="0.35"/><circle cx="540.99" cy="103" r="2.15" fill="#f5a426" stroke="#d98c1c" stroke-width="0.35"/><circle cx="545.83" cy="86.2" r="2.15" fill="#f5a426" stroke="#d98c1c" stroke-width="0.35"/><circle cx="545.83" cy="103" r="2.15" fill="#f5a426" stroke="#d98c1c" stroke-width="0.35"/><circle cx="550.66" cy="86.2" r="2.15" fill="#f5a426" stroke="#d98c1c" stroke-width="0.35"/><circle cx="550.66" cy="103" r="2.15" fill="#f5a426" stroke="#d98c1c" stroke-width="0.35"/><circle cx="555.5" cy="86.2" r="2.15" fill="#f5a426" stroke="#d98c1c" stroke-width="0.35"/><circle cx="555.5" cy="103" r="2.15" fill="#f5a426" stroke="#d98c1c" stroke-width="0.35"/><circle cx="560.34" cy="86.2" r="2.15" fill="#f5a426" stroke="#d98c1c" stroke-width="0.35"/><circle cx="560.34" cy="103" r="2.15" fill="#f5a426" stroke="#d98c1c" stroke-width="0.35"/><circle cx="565.17" cy="86.2" r="2.15" fill="#f5a426" stroke="#d98c1c" stroke-width="0.35"/><circle cx="565.17" cy="103" r="2.15" fill="#f5a426" stroke="#d98c1c" stroke-width="0.35"/><circle cx="570.01" cy="86.2" r="2.15" fill="#f5a426" stroke="#d98c1c" stroke-width="0.35"/><circle cx="570.01" cy="103" r="2.15" fill="#f5a426" stroke="#d98c1c" stroke-width="0.35"/><circle cx="574.85" cy="86.2" r="2.15" fill="#f5a426" stroke="#d98c1c" stroke-width="0.35"/><circle cx="574.85" cy="103" r="2.15" fill="#f5a426" stroke="#d98c1c" stroke-width="0.35"/><circle cx="579.68" cy="86.2" r="2.15" fill="#f5a426" stroke="#d98c1c" stroke-width="0.35"/><circle cx="579.68" cy="103" r="2.15" fill="#f5a426" stroke="#d98c1c" stroke-width="0.35"/><circle cx="584.52" cy="86.2" r="2.15" fill="#f5a426" stroke="#d98c1c" stroke-width="0.35"/><circle cx="584.52" cy="103" r="2.15" fill="#f5a426" stroke="#d98c1c" stroke-width="0.35"/><circle cx="589.35" cy="86.2" r="2.15" fill="#f5a426" stroke="#d98c1c" stroke-width="0.35"/><circle cx="589.35" cy="103" r="2.15" fill="#f5a426" stroke="#d98c1c" stroke-width="0.35"/><circle cx="594.19" cy="86.2" r="2.15" fill="#f5a426" stroke="#d98c1c" stroke-width="0.35"/><circle cx="594.19" cy="103" r="2.15" fill="#f5a426" stroke="#d98c1c" stroke-width="0.35"/><circle cx="599.03" cy="86.2" r="2.15" fill="#f5a426" stroke="#d98c1c" stroke-width="0.35"/><circle cx="599.03" cy="103" r="2.15" fill="#f5a426" stroke="#d98c1c" stroke-width="0.35"/><circle cx="603.86" cy="86.2" r="2.15" fill="#f5a426" stroke="#d98c1c" stroke-width="0.35"/><circle cx="603.86" cy="103" r="2.15" fill="#f5a426" stroke="#d98c1c" stroke-width="0.35"/><circle cx="608.7" cy="86.2" r="2.15" fill="#f5a426" stroke="#d98c1c" stroke-width="0.35"/><circle cx="608.7" cy="103" r="2.15" fill="#f5a426" stroke="#d98c1c" stroke-width="0.35"/><circle cx="613.54" cy="86.2" r="2.15" fill="#f5a426" stroke="#d98c1c" stroke-width="0.35"/><circle cx="613.54" cy="103" r="2.15" fill="#f5a426" stroke="#d98c1c" stroke-width="0.35"/><circle cx="618.37" cy="86.2" r="2.15" fill="#f5a426" stroke="#d98c1c" stroke-width="0.35"/><circle cx="618.37" cy="103" r="2.15" fill="#f5a426" stroke="#d98c1c" stroke-width="0.35"/><circle cx="623.21" cy="86.2" r="2.15" fill="#f5a426" stroke="#d98c1c" stroke-width="0.35"/><circle cx="623.21" cy="103" r="2.15" fill="#f5a426" stroke="#d98c1c" stroke-width="0.35"/><circle cx="628.05" cy="86.2" r="2.15" fill="#f5a426" stroke="#d98c1c" stroke-width="0.35"/><circle cx="628.05" cy="103" r="2.15" fill="#f5a426" stroke="#d98c1c" stroke-width="0.35"/><circle cx="632.88" cy="86.2" r="2.15" fill="#f5a426" stroke="#d98c1c" stroke-width="0.35"/><circle cx="632.88" cy="103" r="2.15" fill="#f5a426" stroke="#d98c1c" stroke-width="0.35"/>
<path d="M528.71 137.77 L542.99 133.39" stroke="#12964a" stroke-width="3.4" stroke-linecap="round" fill="none"/>
<path d="M521.27 139.96 C520.01 140.69 515.36 141.86 512.51 141.27 C509.67 140.69 506.09 138.79 504.19 136.46 C502.3 134.12 501.2 130.04 501.13 127.26 C501.06 124.49 502.3 121.43 503.76 119.82 C505.22 118.22 507.7 117.71 509.89 117.63 C512.08 117.56 515.07 118.22 516.89 119.38 C518.72 120.55 520.22 122.74 520.83 124.64 C521.44 126.53 520.7 128.72 520.57 130.77 C520.44 132.81 519.93 135.36 520.04 136.9 C520.16 138.43 522.52 139.23 521.27 139.96 Z" stroke="#231f20" stroke-width="1.1" fill="none" stroke-linecap="round" stroke-linejoin="round"/>
<path d="M520.39 130.94 C520.18 129.19 519.66 127.54 518.64 126.56 C517.62 125.59 515.75 124.96 514.26 125.08 C512.78 125.19 510.7 126.35 509.71 127.26 C508.72 128.18 508.34 129.57 508.31 130.59 C508.28 131.61 509.51 132.46 509.54 133.39 C509.57 134.33 508.13 135.2 508.49 136.2 C508.84 137.19 510.24 138.71 511.64 139.35 C513.04 139.99 515.5 140.43 516.89 140.05 C518.28 139.67 519.37 138.59 519.96 137.07 C520.54 135.55 520.61 132.69 520.39 130.94 Z" stroke="#231f20" stroke-width="1.1" fill="none" stroke-linecap="round" stroke-linejoin="round"/>
<path d="M520.04 136.9 C520.13 135.73 520 132.01 520.57 129.89 C521.14 127.78 522.79 126.02 523.46 124.2 C524.13 122.38 523.79 120.33 524.6 118.95 C525.4 117.56 526.9 116.17 528.27 115.88 C529.65 115.59 531.34 116.17 532.83 117.19 C534.32 118.22 535.85 120.19 537.21 122.01 C538.56 123.83 540.13 126.1 540.97 128.14 C541.82 130.18 542.36 132.37 542.29 134.27 C542.21 136.17 541.56 138.06 540.53 139.52 C539.51 140.98 537.91 142.22 536.16 143.03 C534.4 143.83 531.89 144.41 530.03 144.34 C528.16 144.27 526.32 143.68 524.95 142.59 C523.58 141.49 522.55 139.42 521.8 137.77 C521.04 136.12 520.63 133.54 520.39 132.69" stroke="#231f20" stroke-width="1.1" fill="none" stroke-linecap="round" stroke-linejoin="round"/>
<path d="M532.22 121.84 C531.44 121.98 528.67 122.17 527.57 122.71 C526.48 123.25 525.53 124.24 525.65 125.08 C525.76 125.91 527.11 127.05 528.27 127.7 C529.44 128.36 531.19 128.77 532.65 129.02 C534.11 129.26 536.07 128.72 537.03 129.19 C537.99 129.66 538.43 130.8 538.43 131.82 C538.43 132.84 537.7 134.18 537.03 135.32 C536.36 136.46 535.43 137.86 534.4 138.65 C533.38 139.44 531.92 140.19 530.9 140.05 C529.88 139.9 529.12 138.88 528.27 137.77 C527.43 136.66 526.82 134.77 525.82 133.39 C524.83 132.02 522.9 130.18 522.32 129.54" stroke="#231f20" stroke-width="1.1" fill="none" stroke-linecap="round" stroke-linejoin="round"/>
<g transform="translate(570.6 128.2) rotate(10.5) scale(1 1)"><path d="M-6.4 -9.4 C-8.4 -12.6 -11.4 -16 -9.8 -17.2 C-8.2 -18 -5.6 -13.2 -3.8 -10 M-1.6 -10.4 C0.2 -13.4 2.2 -19.4 4.4 -19.2 C6.2 -18.6 5 -13.6 5.8 -11.2 C7.2 -12.6 9.6 -14.4 10.4 -12.8 C10.8 -11.4 9 -10.4 7.8 -9.6 M-7.2 9.4 C-8.8 11.6 -8.4 14.4 -6.6 14 C-5.2 13.6 -5 11.6 -4.6 10 M-0.6 10 C-1.2 13.4 -0.2 16.6 1.6 16 C3 15.4 2.8 12.4 2.6 10.2 M5.8 9.6 C6.4 12 8.2 13.8 9.2 12.6 C9.8 11.6 8.8 10 8.4 8.8" stroke="#1c2a20" stroke-width="0.75" fill="#eef2ee" fill-opacity="0.35"/><path d="M-8.8 -9.6 L9.4 -9.9 L8.6 9.7 L-8.4 9.9 Z" fill="#12964a" stroke="#0c5a2b" stroke-width="0.5" stroke-linejoin="round"/><path d="M2.4 -9.8 C2.6 -3 -6.4 2.4 -8.5 8.6 L-8.7 1.6 C-6 -2.6 -3 -5 -3.4 -9.7 Z" fill="#e9f1ea"/><path d="M3.4 -8.6 C4.2 -3 -1.4 2 -0.8 8.6 M6.4 -8.2 C7.4 -3 2.6 2 3.6 8.4 M8.2 -3 C8.4 0 6.4 3.4 6.8 7.6 M-3.6 3.6 C-4.8 5.4 -5.2 7.4 -4.8 9.2" stroke="#0b4a22" stroke-width="0.6" fill="none"/></g>
<g transform="translate(611 136.6) rotate(-11.5) scale(1 1)"><path d="M-6.4 -9.4 C-8.4 -12.6 -11.4 -16 -9.8 -17.2 C-8.2 -18 -5.6 -13.2 -3.8 -10 M-1.6 -10.4 C0.2 -13.4 2.2 -19.4 4.4 -19.2 C6.2 -18.6 5 -13.6 5.8 -11.2 C7.2 -12.6 9.6 -14.4 10.4 -12.8 C10.8 -11.4 9 -10.4 7.8 -9.6 M-7.2 9.4 C-8.8 11.6 -8.4 14.4 -6.6 14 C-5.2 13.6 -5 11.6 -4.6 10 M-0.6 10 C-1.2 13.4 -0.2 16.6 1.6 16 C3 15.4 2.8 12.4 2.6 10.2 M5.8 9.6 C6.4 12 8.2 13.8 9.2 12.6 C9.8 11.6 8.8 10 8.4 8.8" stroke="#1c2a20" stroke-width="0.75" fill="#eef2ee" fill-opacity="0.35"/><path d="M-8.8 -9.6 L9.4 -9.9 L8.6 9.7 L-8.4 9.9 Z" fill="#12964a" stroke="#0c5a2b" stroke-width="0.5" stroke-linejoin="round"/><path d="M2.4 -9.8 C2.6 -3 -6.4 2.4 -8.5 8.6 L-8.7 1.6 C-6 -2.6 -3 -5 -3.4 -9.7 Z" fill="#e9f1ea"/><path d="M3.4 -8.6 C4.2 -3 -1.4 2 -0.8 8.6 M6.4 -8.2 C7.4 -3 2.6 2 3.6 8.4 M8.2 -3 C8.4 0 6.4 3.4 6.8 7.6 M-3.6 3.6 C-4.8 5.4 -5.2 7.4 -4.8 9.2" stroke="#0b4a22" stroke-width="0.6" fill="none"/></g>
<rect x="473.9" y="179" width="164.3" height="136.8" fill="#6db889" stroke="#2a2a2c" stroke-width="1.2" rx="9.5"/>
<text x="0" y="0" font-size="21" text-anchor="middle" font-weight="normal" fill="#231f20" transform="translate(553.6 205.6) scale(0.79 1)">Solubilized</text>
<rect x="475.7" y="237.6" width="159.6" height="18" fill="#e4c7a5"/><path d="M477.27 239.4 V246.1 M477.27 247.1 V253.8 M478.97 239.4 V246.1 M478.97 247.1 V253.8 M482.1 239.4 V246.1 M482.1 247.1 V253.8 M483.8 239.4 V246.1 M483.8 247.1 V253.8 M486.94 239.4 V246.1 M486.94 247.1 V253.8 M488.64 239.4 V246.1 M488.64 247.1 V253.8 M491.78 239.4 V246.1 M491.78 247.1 V253.8 M493.48 239.4 V246.1 M493.48 247.1 V253.8 M496.61 239.4 V246.1 M496.61 247.1 V253.8 M498.31 239.4 V246.1 M498.31 247.1 V253.8 M501.45 239.4 V246.1 M501.45 247.1 V253.8 M503.15 239.4 V246.1 M503.15 247.1 V253.8 M506.29 239.4 V246.1 M506.29 247.1 V253.8 M507.99 239.4 V246.1 M507.99 247.1 V253.8 M511.12 239.4 V246.1 M511.12 247.1 V253.8 M512.82 239.4 V246.1 M512.82 247.1 V253.8 M515.96 239.4 V246.1 M515.96 247.1 V253.8 M517.66 239.4 V246.1 M517.66 247.1 V253.8 M520.8 239.4 V246.1 M520.8 247.1 V253.8 M522.5 239.4 V246.1 M522.5 247.1 V253.8 M525.63 239.4 V246.1 M525.63 247.1 V253.8 M527.33 239.4 V246.1 M527.33 247.1 V253.8 M530.47 239.4 V246.1 M530.47 247.1 V253.8 M532.17 239.4 V246.1 M532.17 247.1 V253.8 M535.3 239.4 V246.1 M535.3 247.1 V253.8 M537 239.4 V246.1 M537 247.1 V253.8 M540.14 239.4 V246.1 M540.14 247.1 V253.8 M541.84 239.4 V246.1 M541.84 247.1 V253.8 M544.98 239.4 V246.1 M544.98 247.1 V253.8 M546.68 239.4 V246.1 M546.68 247.1 V253.8 M549.81 239.4 V246.1 M549.81 247.1 V253.8 M551.51 239.4 V246.1 M551.51 247.1 V253.8 M554.65 239.4 V246.1 M554.65 247.1 V253.8 M556.35 239.4 V246.1 M556.35 247.1 V253.8 M559.49 239.4 V246.1 M559.49 247.1 V253.8 M561.19 239.4 V246.1 M561.19 247.1 V253.8 M564.32 239.4 V246.1 M564.32 247.1 V253.8 M566.02 239.4 V246.1 M566.02 247.1 V253.8 M569.16 239.4 V246.1 M569.16 247.1 V253.8 M570.86 239.4 V246.1 M570.86 247.1 V253.8 M574 239.4 V246.1 M574 247.1 V253.8 M575.7 239.4 V246.1 M575.7 247.1 V253.8 M578.83 239.4 V246.1 M578.83 247.1 V253.8 M580.53 239.4 V246.1 M580.53 247.1 V253.8 M583.67 239.4 V246.1 M583.67 247.1 V253.8 M585.37 239.4 V246.1 M585.37 247.1 V253.8 M588.5 239.4 V246.1 M588.5 247.1 V253.8 M590.2 239.4 V246.1 M590.2 247.1 V253.8 M593.34 239.4 V246.1 M593.34 247.1 V253.8 M595.04 239.4 V246.1 M595.04 247.1 V253.8 M598.18 239.4 V246.1 M598.18 247.1 V253.8 M599.88 239.4 V246.1 M599.88 247.1 V253.8 M603.01 239.4 V246.1 M603.01 247.1 V253.8 M604.71 239.4 V246.1 M604.71 247.1 V253.8 M607.85 239.4 V246.1 M607.85 247.1 V253.8 M609.55 239.4 V246.1 M609.55 247.1 V253.8 M612.69 239.4 V246.1 M612.69 247.1 V253.8 M614.39 239.4 V246.1 M614.39 247.1 V253.8 M617.52 239.4 V246.1 M617.52 247.1 V253.8 M619.22 239.4 V246.1 M619.22 247.1 V253.8 M622.36 239.4 V246.1 M622.36 247.1 V253.8 M624.06 239.4 V246.1 M624.06 247.1 V253.8 M627.2 239.4 V246.1 M627.2 247.1 V253.8 M628.9 239.4 V246.1 M628.9 247.1 V253.8 M632.03 239.4 V246.1 M632.03 247.1 V253.8 M633.73 239.4 V246.1 M633.73 247.1 V253.8 " stroke="#6e6560" stroke-width="0.7" fill="none"/><circle cx="478.12" cy="237.7" r="2.15" fill="#f5a426" stroke="#d98c1c" stroke-width="0.35"/><circle cx="478.12" cy="255.5" r="2.15" fill="#f5a426" stroke="#d98c1c" stroke-width="0.35"/><circle cx="482.95" cy="237.7" r="2.15" fill="#f5a426" stroke="#d98c1c" stroke-width="0.35"/><circle cx="482.95" cy="255.5" r="2.15" fill="#f5a426" stroke="#d98c1c" stroke-width="0.35"/><circle cx="487.79" cy="237.7" r="2.15" fill="#f5a426" stroke="#d98c1c" stroke-width="0.35"/><circle cx="487.79" cy="255.5" r="2.15" fill="#f5a426" stroke="#d98c1c" stroke-width="0.35"/><circle cx="492.63" cy="237.7" r="2.15" fill="#f5a426" stroke="#d98c1c" stroke-width="0.35"/><circle cx="492.63" cy="255.5" r="2.15" fill="#f5a426" stroke="#d98c1c" stroke-width="0.35"/><circle cx="497.46" cy="237.7" r="2.15" fill="#f5a426" stroke="#d98c1c" stroke-width="0.35"/><circle cx="497.46" cy="255.5" r="2.15" fill="#f5a426" stroke="#d98c1c" stroke-width="0.35"/><circle cx="502.3" cy="237.7" r="2.15" fill="#f5a426" stroke="#d98c1c" stroke-width="0.35"/><circle cx="502.3" cy="255.5" r="2.15" fill="#f5a426" stroke="#d98c1c" stroke-width="0.35"/><circle cx="507.14" cy="237.7" r="2.15" fill="#f5a426" stroke="#d98c1c" stroke-width="0.35"/><circle cx="507.14" cy="255.5" r="2.15" fill="#f5a426" stroke="#d98c1c" stroke-width="0.35"/><circle cx="511.97" cy="237.7" r="2.15" fill="#f5a426" stroke="#d98c1c" stroke-width="0.35"/><circle cx="511.97" cy="255.5" r="2.15" fill="#f5a426" stroke="#d98c1c" stroke-width="0.35"/><circle cx="516.81" cy="237.7" r="2.15" fill="#f5a426" stroke="#d98c1c" stroke-width="0.35"/><circle cx="516.81" cy="255.5" r="2.15" fill="#f5a426" stroke="#d98c1c" stroke-width="0.35"/><circle cx="521.65" cy="237.7" r="2.15" fill="#f5a426" stroke="#d98c1c" stroke-width="0.35"/><circle cx="521.65" cy="255.5" r="2.15" fill="#f5a426" stroke="#d98c1c" stroke-width="0.35"/><circle cx="526.48" cy="237.7" r="2.15" fill="#f5a426" stroke="#d98c1c" stroke-width="0.35"/><circle cx="526.48" cy="255.5" r="2.15" fill="#f5a426" stroke="#d98c1c" stroke-width="0.35"/><circle cx="531.32" cy="237.7" r="2.15" fill="#f5a426" stroke="#d98c1c" stroke-width="0.35"/><circle cx="531.32" cy="255.5" r="2.15" fill="#f5a426" stroke="#d98c1c" stroke-width="0.35"/><circle cx="536.15" cy="237.7" r="2.15" fill="#f5a426" stroke="#d98c1c" stroke-width="0.35"/><circle cx="536.15" cy="255.5" r="2.15" fill="#f5a426" stroke="#d98c1c" stroke-width="0.35"/><circle cx="540.99" cy="237.7" r="2.15" fill="#f5a426" stroke="#d98c1c" stroke-width="0.35"/><circle cx="540.99" cy="255.5" r="2.15" fill="#f5a426" stroke="#d98c1c" stroke-width="0.35"/><circle cx="545.83" cy="237.7" r="2.15" fill="#f5a426" stroke="#d98c1c" stroke-width="0.35"/><circle cx="545.83" cy="255.5" r="2.15" fill="#f5a426" stroke="#d98c1c" stroke-width="0.35"/><circle cx="550.66" cy="237.7" r="2.15" fill="#f5a426" stroke="#d98c1c" stroke-width="0.35"/><circle cx="550.66" cy="255.5" r="2.15" fill="#f5a426" stroke="#d98c1c" stroke-width="0.35"/><circle cx="555.5" cy="237.7" r="2.15" fill="#f5a426" stroke="#d98c1c" stroke-width="0.35"/><circle cx="555.5" cy="255.5" r="2.15" fill="#f5a426" stroke="#d98c1c" stroke-width="0.35"/><circle cx="560.34" cy="237.7" r="2.15" fill="#f5a426" stroke="#d98c1c" stroke-width="0.35"/><circle cx="560.34" cy="255.5" r="2.15" fill="#f5a426" stroke="#d98c1c" stroke-width="0.35"/><circle cx="565.17" cy="237.7" r="2.15" fill="#f5a426" stroke="#d98c1c" stroke-width="0.35"/><circle cx="565.17" cy="255.5" r="2.15" fill="#f5a426" stroke="#d98c1c" stroke-width="0.35"/><circle cx="570.01" cy="237.7" r="2.15" fill="#f5a426" stroke="#d98c1c" stroke-width="0.35"/><circle cx="570.01" cy="255.5" r="2.15" fill="#f5a426" stroke="#d98c1c" stroke-width="0.35"/><circle cx="574.85" cy="237.7" r="2.15" fill="#f5a426" stroke="#d98c1c" stroke-width="0.35"/><circle cx="574.85" cy="255.5" r="2.15" fill="#f5a426" stroke="#d98c1c" stroke-width="0.35"/><circle cx="579.68" cy="237.7" r="2.15" fill="#f5a426" stroke="#d98c1c" stroke-width="0.35"/><circle cx="579.68" cy="255.5" r="2.15" fill="#f5a426" stroke="#d98c1c" stroke-width="0.35"/><circle cx="584.52" cy="237.7" r="2.15" fill="#f5a426" stroke="#d98c1c" stroke-width="0.35"/><circle cx="584.52" cy="255.5" r="2.15" fill="#f5a426" stroke="#d98c1c" stroke-width="0.35"/><circle cx="589.35" cy="237.7" r="2.15" fill="#f5a426" stroke="#d98c1c" stroke-width="0.35"/><circle cx="589.35" cy="255.5" r="2.15" fill="#f5a426" stroke="#d98c1c" stroke-width="0.35"/><circle cx="594.19" cy="237.7" r="2.15" fill="#f5a426" stroke="#d98c1c" stroke-width="0.35"/><circle cx="594.19" cy="255.5" r="2.15" fill="#f5a426" stroke="#d98c1c" stroke-width="0.35"/><circle cx="599.03" cy="237.7" r="2.15" fill="#f5a426" stroke="#d98c1c" stroke-width="0.35"/><circle cx="599.03" cy="255.5" r="2.15" fill="#f5a426" stroke="#d98c1c" stroke-width="0.35"/><circle cx="603.86" cy="237.7" r="2.15" fill="#f5a426" stroke="#d98c1c" stroke-width="0.35"/><circle cx="603.86" cy="255.5" r="2.15" fill="#f5a426" stroke="#d98c1c" stroke-width="0.35"/><circle cx="608.7" cy="237.7" r="2.15" fill="#f5a426" stroke="#d98c1c" stroke-width="0.35"/><circle cx="608.7" cy="255.5" r="2.15" fill="#f5a426" stroke="#d98c1c" stroke-width="0.35"/><circle cx="613.54" cy="237.7" r="2.15" fill="#f5a426" stroke="#d98c1c" stroke-width="0.35"/><circle cx="613.54" cy="255.5" r="2.15" fill="#f5a426" stroke="#d98c1c" stroke-width="0.35"/><circle cx="618.37" cy="237.7" r="2.15" fill="#f5a426" stroke="#d98c1c" stroke-width="0.35"/><circle cx="618.37" cy="255.5" r="2.15" fill="#f5a426" stroke="#d98c1c" stroke-width="0.35"/><circle cx="623.21" cy="237.7" r="2.15" fill="#f5a426" stroke="#d98c1c" stroke-width="0.35"/><circle cx="623.21" cy="255.5" r="2.15" fill="#f5a426" stroke="#d98c1c" stroke-width="0.35"/><circle cx="628.05" cy="237.7" r="2.15" fill="#f5a426" stroke="#d98c1c" stroke-width="0.35"/><circle cx="628.05" cy="255.5" r="2.15" fill="#f5a426" stroke="#d98c1c" stroke-width="0.35"/><circle cx="632.88" cy="237.7" r="2.15" fill="#f5a426" stroke="#d98c1c" stroke-width="0.35"/><circle cx="632.88" cy="255.5" r="2.15" fill="#f5a426" stroke="#d98c1c" stroke-width="0.35"/>
<defs><radialGradient id="glow" cx="50%" cy="50%" r="50%"><stop offset="0" stop-color="#76bd3c"/><stop offset="0.5" stop-color="#86c64c"/><stop offset="0.72" stop-color="#bfe0a8"/><stop offset="1" stop-color="#eaf6e2"/></radialGradient></defs>
<path d="M580.7 259.9 L582.21 268.22 L585.31 260.68 L585.14 269.21 L589.6 262.95 L587.76 271.12 L593.29 266.58 L589.9 273.81 L596.12 271.3 L591.42 277.11 L597.89 276.8 L592.2 280.79 L598.5 282.7 L592.2 284.61 L597.89 288.6 L591.42 288.29 L596.12 294.1 L589.9 291.59 L593.29 298.82 L587.76 294.28 L589.6 302.45 L585.14 296.19 L585.31 304.72 L582.21 297.18 L580.7 305.5 L579.19 297.18 L576.09 304.72 L576.26 296.19 L571.8 302.45 L573.64 294.28 L568.11 298.82 L571.5 291.59 L565.28 294.1 L569.98 288.29 L563.51 288.6 L569.2 284.61 L562.9 282.7 L569.2 280.79 L563.51 276.8 L569.98 277.11 L565.28 271.3 L571.5 273.81 L568.11 266.58 L573.64 271.12 L571.8 262.95 L576.26 269.21 L576.09 260.68 L579.19 268.22 Z" fill="url(#glow)"/>
<path d="M503.8 282.6 C502.6 277 505 271 507.6 266 C509 263 509.6 261.5 509.6 259.6 M509.6 233 C509.6 224 512 220.6 517.4 220.6 C523 220.6 525.1 224.4 525.1 233 M525.1 259.6 C525.4 266 529 272 533.5 276 C538 279.6 542.6 279.2 544.4 275.4 C545.6 271.6 541 266 538.8 259.6 M538.8 233 C538.8 223 541.6 218.6 546.2 218.6 C551 218.6 552.8 223.4 552.8 233 M552.8 259.6 C553.4 265.6 556.6 270.4 561.0 272.2 C564.6 273.6 567.0 273.2 569.6 274.0" stroke="#231f20" stroke-width="1.0" fill="none"/>
<rect x="505.9" y="231.4" width="7.4" height="29.6" rx="2.8" fill="#1c97db" stroke="#0c4f86" stroke-width="0.6"/>
<rect x="507.6" y="233.6" width="1.6" height="25" rx="0.8" fill="#7cc8f2" opacity="0.9"/>
<rect x="521.4" y="231.4" width="7.4" height="29.6" rx="2.8" fill="#1c97db" stroke="#0c4f86" stroke-width="0.6"/>
<rect x="523.1" y="233.6" width="1.6" height="25" rx="0.8" fill="#7cc8f2" opacity="0.9"/>
<rect x="535.1" y="231.4" width="7.4" height="29.6" rx="2.8" fill="#1c97db" stroke="#0c4f86" stroke-width="0.6"/>
<rect x="536.8" y="233.6" width="1.6" height="25" rx="0.8" fill="#7cc8f2" opacity="0.9"/>
<rect x="549.1" y="231.4" width="7.4" height="29.6" rx="2.8" fill="#1c97db" stroke="#0c4f86" stroke-width="0.6"/>
<rect x="550.8" y="233.6" width="1.6" height="25" rx="0.8" fill="#7cc8f2" opacity="0.9"/>
<g transform="translate(580.7 282.7)">
<path d="M-8.6 -11 C-10.6 -13 -14.6 -14.6 -14.2 -16.4 C-13.4 -18 -9.4 -15.6 -6.4 -12.4 M-3.4 -12 C-2.6 -16 -1.4 -22.4 0.6 -22.4 C3 -22.2 3.4 -17.6 5 -16.4 C6.4 -17.6 8.6 -18.6 9.6 -17 C10.4 -15.4 8.6 -13 8 -11.2 M-8.2 11 C-7.6 14 -6.6 16 -5.2 15.6 C-4 15.2 -4.2 12.6 -4 10.8 M1.8 11 C2.2 14.6 3.2 17.6 4.6 17.2 C5.8 16.8 5.6 13.4 5.4 11 M8.6 10 C9 11.8 10 13.4 10.8 12.6" stroke="#231f20" stroke-width="0.7" fill="#dff0d4" fill-opacity="0.55"/>
<rect x="-8.9" y="-11.1" width="17.8" height="22.2" rx="1.6" fill="#17884a" stroke="#0e5a2c" stroke-width="0.6"/>
<path d="M-6.6 -0.6 C-4.6 -3.6 -3.4 -6 -2.6 -9 M-6.4 7.6 C-2.4 3 0.6 -2.6 1.6 -9.4 M-2.4 8.6 C1.6 4 4.6 -1.6 5.6 -8.4 M2.6 8.8 C5 5.6 6.8 2 7.4 -2.6 M6.4 8 C7 6.6 7.4 5 7.6 3.6" stroke="#0b3d1e" stroke-width="0.7" fill="none" stroke-linecap="round"/>
</g>
<rect x="50.4" y="346" width="274.9" height="121.7" fill="none" stroke="#000" stroke-width="1.15"/>
<line x1="46" y1="467.6" x2="50.4" y2="467.6" stroke="#000" stroke-width="1.15"/>
<text x="41.6" y="471.1" font-size="9.75" text-anchor="end" font-weight="normal" fill="#000">0</text>
<line x1="46" y1="431.9" x2="50.4" y2="431.9" stroke="#000" stroke-width="1.15"/>
<text x="41.6" y="435.4" font-size="9.75" text-anchor="end" font-weight="normal" fill="#000">5</text>
<line x1="46" y1="396.2" x2="50.4" y2="396.2" stroke="#000" stroke-width="1.15"/>
<text x="41.6" y="399.7" font-size="9.75" text-anchor="end" font-weight="normal" fill="#000">10</text>
<line x1="46" y1="360.5" x2="50.4" y2="360.5" stroke="#000" stroke-width="1.15"/>
<text x="41.6" y="364" font-size="9.75" text-anchor="end" font-weight="normal" fill="#000">15</text>
<line x1="61.8" y1="467.7" x2="61.8" y2="472.1" stroke="#000" stroke-width="1.15"/>
<line x1="84.77" y1="467.7" x2="84.77" y2="472.1" stroke="#000" stroke-width="1.15"/>
<line x1="107.74" y1="467.7" x2="107.74" y2="472.1" stroke="#000" stroke-width="1.15"/>
<line x1="130.71" y1="467.7" x2="130.71" y2="472.1" stroke="#000" stroke-width="1.15"/>
<line x1="153.68" y1="467.7" x2="153.68" y2="472.1" stroke="#000" stroke-width="1.15"/>
<line x1="176.65" y1="467.7" x2="176.65" y2="472.1" stroke="#000" stroke-width="1.15"/>
<line x1="199.62" y1="467.7" x2="199.62" y2="472.1" stroke="#000" stroke-width="1.15"/>
<line x1="222.59" y1="467.7" x2="222.59" y2="472.1" stroke="#000" stroke-width="1.15"/>
<line x1="245.56" y1="467.7" x2="245.56" y2="472.1" stroke="#000" stroke-width="1.15"/>
<line x1="268.53" y1="467.7" x2="268.53" y2="472.1" stroke="#000" stroke-width="1.15"/>
<line x1="291.5" y1="467.7" x2="291.5" y2="472.1" stroke="#000" stroke-width="1.15"/>
<line x1="314.47" y1="467.7" x2="314.47" y2="472.1" stroke="#000" stroke-width="1.15"/>
<text x="0" y="0" font-size="10" text-anchor="middle" font-weight="normal" fill="#000" transform="translate(23 407.6) rotate(-90)">Raw yield (pmol)</text>
<rect x="50.4" y="477" width="274.9" height="121.4" fill="none" stroke="#000" stroke-width="1.15"/>
<line x1="46" y1="481.45" x2="50.4" y2="481.45" stroke="#000" stroke-width="1.15"/>
<text x="40.5" y="484.95" font-size="9.75" text-anchor="end" font-weight="normal" fill="#000">7.5</text>
<line x1="46" y1="503.1" x2="50.4" y2="503.1" stroke="#000" stroke-width="1.15"/>
<text x="40.5" y="506.6" font-size="9.75" text-anchor="end" font-weight="normal" fill="#000">5.0</text>
<line x1="46" y1="524.75" x2="50.4" y2="524.75" stroke="#000" stroke-width="1.15"/>
<text x="40.5" y="528.25" font-size="9.75" text-anchor="end" font-weight="normal" fill="#000">2.5</text>
<line x1="46" y1="546.4" x2="50.4" y2="546.4" stroke="#000" stroke-width="1.15"/>
<text x="40.5" y="549.9" font-size="9.75" text-anchor="end" font-weight="normal" fill="#000">0.0</text>
<line x1="46" y1="568.05" x2="50.4" y2="568.05" stroke="#000" stroke-width="1.15"/>
<text x="40.5" y="571.55" font-size="9.75" text-anchor="end" font-weight="normal" fill="#000">−2.5</text>
<line x1="46" y1="589.7" x2="50.4" y2="589.7" stroke="#000" stroke-width="1.15"/>
<text x="40.5" y="593.2" font-size="9.75" text-anchor="end" font-weight="normal" fill="#000">−5.0</text>
<text x="0" y="0" font-size="9.9" text-anchor="middle" font-weight="normal" fill="#000" transform="translate(12.6 537.6) rotate(-90)">Relative yield (pmol)</text>
<line x1="50.4" y1="546.4" x2="325.3" y2="546.4" stroke="#222" stroke-width="0.8" stroke-dasharray="3.7 1.7"/>
<line x1="50.4" y1="598.4" x2="50.4" y2="616.5" stroke="#000" stroke-width="1.15"/>
<line x1="143.2" y1="598.4" x2="143.2" y2="616.5" stroke="#000" stroke-width="1.15"/>
<line x1="233.8" y1="598.4" x2="233.8" y2="616.5" stroke="#000" stroke-width="1.15"/>
<line x1="325.3" y1="598.4" x2="325.3" y2="616.5" stroke="#000" stroke-width="1.15"/>
<line x1="61.8" y1="598.4" x2="61.8" y2="602.8" stroke="#000" stroke-width="1.15"/>
<text x="61.8" y="614" font-size="9.75" text-anchor="middle" font-weight="normal" fill="#000">1</text>
<line x1="84.77" y1="598.4" x2="84.77" y2="602.8" stroke="#000" stroke-width="1.15"/>
<text x="84.77" y="614" font-size="9.75" text-anchor="middle" font-weight="normal" fill="#000">2</text>
<line x1="107.74" y1="598.4" x2="107.74" y2="602.8" stroke="#000" stroke-width="1.15"/>
<text x="107.74" y="614" font-size="9.75" text-anchor="middle" font-weight="normal" fill="#000">3</text>
<line x1="130.71" y1="598.4" x2="130.71" y2="602.8" stroke="#000" stroke-width="1.15"/>
<text x="130.71" y="614" font-size="9.75" text-anchor="middle" font-weight="normal" fill="#000">4</text>
<line x1="153.68" y1="598.4" x2="153.68" y2="602.8" stroke="#000" stroke-width="1.15"/>
<text x="153.68" y="614" font-size="9.75" text-anchor="middle" font-weight="normal" fill="#000">1</text>
<line x1="176.65" y1="598.4" x2="176.65" y2="602.8" stroke="#000" stroke-width="1.15"/>
<text x="176.65" y="614" font-size="9.75" text-anchor="middle" font-weight="normal" fill="#000">2</text>
<line x1="199.62" y1="598.4" x2="199.62" y2="602.8" stroke="#000" stroke-width="1.15"/>
<text x="199.62" y="614" font-size="9.75" text-anchor="middle" font-weight="normal" fill="#000">3</text>
<line x1="222.59" y1="598.4" x2="222.59" y2="602.8" stroke="#000" stroke-width="1.15"/>
<text x="222.59" y="614" font-size="9.75" text-anchor="middle" font-weight="normal" fill="#000">4</text>
<line x1="245.56" y1="598.4" x2="245.56" y2="602.8" stroke="#000" stroke-width="1.15"/>
<text x="245.56" y="614" font-size="9.75" text-anchor="middle" font-weight="normal" fill="#000">1</text>
<line x1="268.53" y1="598.4" x2="268.53" y2="602.8" stroke="#000" stroke-width="1.15"/>
<text x="268.53" y="614" font-size="9.75" text-anchor="middle" font-weight="normal" fill="#000">2</text>
<line x1="291.5" y1="598.4" x2="291.5" y2="602.8" stroke="#000" stroke-width="1.15"/>
<text x="291.5" y="614" font-size="9.75" text-anchor="middle" font-weight="normal" fill="#000">3</text>
<line x1="314.47" y1="598.4" x2="314.47" y2="602.8" stroke="#000" stroke-width="1.15"/>
<text x="314.47" y="614" font-size="9.75" text-anchor="middle" font-weight="normal" fill="#000">4</text>
<text x="95.6" y="627.9" font-size="11.2" text-anchor="middle" font-weight="normal" fill="#000">AqpZ</text>
<text x="188.3" y="627.9" font-size="11.2" text-anchor="middle" font-weight="normal" fill="#000">No DNA</text>
<text x="278.4" y="627.9" font-size="11.2" text-anchor="middle" font-weight="normal" fill="#000">Cat</text>
<rect x="142.6" y="359.8" width="81.2" height="32.2" fill="#fff" stroke="#cfcfcf" stroke-width="0.9" rx="1.6"/>
<circle cx="151.6" cy="368" r="2.9" fill="#000" stroke="none" stroke-width="1"/>
<circle cx="151.6" cy="383.2" r="2.35" fill="#fff" stroke="#000" stroke-width="1.25"/>
<text x="158.2" y="371.5" font-size="9.9" text-anchor="start" font-weight="normal" fill="#000">(+) Liposomes</text>
<text x="158.2" y="386.7" font-size="9.9" text-anchor="start" font-weight="normal" fill="#000">(-) Liposomes</text>
<circle cx="58.3" cy="444" r="1.7" fill="#fff" stroke="#1473b7" stroke-width="1.05" fill-opacity="0.75"/>
<circle cx="62.3" cy="445" r="1.7" fill="#fff" stroke="#1473b7" stroke-width="1.05" fill-opacity="0.75"/>
<circle cx="66.3" cy="443.8" r="1.7" fill="#fff" stroke="#1473b7" stroke-width="1.05" fill-opacity="0.75"/>
<circle cx="62.1" cy="409.6" r="2.1" fill="#1473b7" stroke="none" stroke-width="1"/>
<circle cx="59" cy="416.7" r="2.1" fill="#1473b7" stroke="none" stroke-width="1"/>
<circle cx="62.6" cy="414.4" r="2.1" fill="#1473b7" stroke="none" stroke-width="1"/>
<circle cx="62.1" cy="420.4" r="2.1" fill="#1473b7" stroke="none" stroke-width="1"/>
<circle cx="77.1" cy="453.8" r="1.7" fill="#fff" stroke="#1473b7" stroke-width="1.05" fill-opacity="0.75"/>
<circle cx="80.9" cy="455.9" r="1.7" fill="#fff" stroke="#1473b7" stroke-width="1.05" fill-opacity="0.75"/>
<circle cx="84.9" cy="456.4" r="1.7" fill="#fff" stroke="#1473b7" stroke-width="1.05" fill-opacity="0.75"/>
<circle cx="89.2" cy="455.6" r="1.7" fill="#fff" stroke="#1473b7" stroke-width="1.05" fill-opacity="0.75"/>
<circle cx="93.5" cy="455.4" r="1.7" fill="#fff" stroke="#1473b7" stroke-width="1.05" fill-opacity="0.75"/>
<circle cx="78.6" cy="431.7" r="2.1" fill="#1473b7" stroke="none" stroke-width="1"/>
<circle cx="82.7" cy="433.2" r="2.1" fill="#1473b7" stroke="none" stroke-width="1"/>
<circle cx="86.9" cy="432.5" r="2.1" fill="#1473b7" stroke="none" stroke-width="1"/>
<circle cx="91.2" cy="432.5" r="2.1" fill="#1473b7" stroke="none" stroke-width="1"/>
<circle cx="84.9" cy="436.8" r="2.1" fill="#1473b7" stroke="none" stroke-width="1"/>
<circle cx="103.3" cy="450.1" r="1.7" fill="#fff" stroke="#1473b7" stroke-width="1.05" fill-opacity="0.75"/>
<circle cx="107.8" cy="448.1" r="1.7" fill="#fff" stroke="#1473b7" stroke-width="1.05" fill-opacity="0.75"/>
<circle cx="112.1" cy="449.1" r="1.7" fill="#fff" stroke="#1473b7" stroke-width="1.05" fill-opacity="0.75"/>
<circle cx="105.3" cy="453.1" r="1.7" fill="#fff" stroke="#1473b7" stroke-width="1.05" fill-opacity="0.75"/>
<circle cx="109.5" cy="451.8" r="1.7" fill="#fff" stroke="#1473b7" stroke-width="1.05" fill-opacity="0.75"/>
<circle cx="107.8" cy="456.6" r="1.7" fill="#fff" stroke="#1473b7" stroke-width="1.05" fill-opacity="0.75"/>
<circle cx="103.5" cy="419.4" r="2.1" fill="#1473b7" stroke="none" stroke-width="1"/>
<circle cx="107.5" cy="421.2" r="2.1" fill="#1473b7" stroke="none" stroke-width="1"/>
<circle cx="103.8" cy="423.4" r="2.1" fill="#1473b7" stroke="none" stroke-width="1"/>
<circle cx="111.3" cy="422.9" r="2.1" fill="#1473b7" stroke="none" stroke-width="1"/>
<circle cx="108" cy="424.9" r="2.1" fill="#1473b7" stroke="none" stroke-width="1"/>
<circle cx="127.1" cy="443.8" r="1.7" fill="#fff" stroke="#1473b7" stroke-width="1.05" fill-opacity="0.75"/>
<circle cx="131.2" cy="444.8" r="1.7" fill="#fff" stroke="#1473b7" stroke-width="1.05" fill-opacity="0.75"/>
<circle cx="127.1" cy="450.3" r="1.7" fill="#fff" stroke="#1473b7" stroke-width="1.05" fill-opacity="0.75"/>
<circle cx="131.2" cy="450.6" r="1.7" fill="#fff" stroke="#1473b7" stroke-width="1.05" fill-opacity="0.75"/>
<circle cx="127.1" cy="399.1" r="2.1" fill="#1473b7" stroke="none" stroke-width="1"/>
<circle cx="130.9" cy="401.3" r="2.1" fill="#1473b7" stroke="none" stroke-width="1"/>
<circle cx="130.9" cy="406.1" r="2.1" fill="#1473b7" stroke="none" stroke-width="1"/>
<circle cx="153.9" cy="449" r="1.7" fill="#fff" stroke="#000000" stroke-width="1.05" fill-opacity="0.75"/>
<circle cx="159.1" cy="452.8" r="1.7" fill="#fff" stroke="#000000" stroke-width="1.05" fill-opacity="0.75"/>
<circle cx="151.4" cy="454.6" r="1.7" fill="#fff" stroke="#000000" stroke-width="1.05" fill-opacity="0.75"/>
<circle cx="145.8" cy="458" r="2.1" fill="#000000" stroke="none" stroke-width="1"/>
<circle cx="150" cy="459.8" r="2.1" fill="#000000" stroke="none" stroke-width="1"/>
<circle cx="153.9" cy="461.8" r="2.1" fill="#000000" stroke="none" stroke-width="1"/>
<circle cx="157.3" cy="458.7" r="2.1" fill="#000000" stroke="none" stroke-width="1"/>
<circle cx="161.1" cy="458" r="2.1" fill="#000000" stroke="none" stroke-width="1"/>
<circle cx="153.9" cy="453.2" r="2.1" fill="#000000" stroke="none" stroke-width="1"/>
<circle cx="153.9" cy="457.5" r="2.1" fill="#000000" stroke="none" stroke-width="1"/>
<circle cx="170.2" cy="453.9" r="1.7" fill="#fff" stroke="#000000" stroke-width="1.05" fill-opacity="0.75"/>
<circle cx="176.1" cy="453.9" r="1.7" fill="#fff" stroke="#000000" stroke-width="1.05" fill-opacity="0.75"/>
<circle cx="182.3" cy="453.5" r="1.7" fill="#fff" stroke="#000000" stroke-width="1.05" fill-opacity="0.75"/>
<circle cx="180.9" cy="457.8" r="1.7" fill="#fff" stroke="#000000" stroke-width="1.05" fill-opacity="0.75"/>
<circle cx="172.6" cy="457.3" r="2.1" fill="#000000" stroke="none" stroke-width="1"/>
<circle cx="176.8" cy="457.3" r="2.1" fill="#000000" stroke="none" stroke-width="1"/>
<circle cx="172.6" cy="462.2" r="2.1" fill="#000000" stroke="none" stroke-width="1"/>
<circle cx="176.3" cy="462.6" r="2.1" fill="#000000" stroke="none" stroke-width="1"/>
<circle cx="174.7" cy="459.4" r="2.1" fill="#000000" stroke="none" stroke-width="1"/>
<circle cx="178.8" cy="458" r="2.1" fill="#000000" stroke="none" stroke-width="1"/>
<circle cx="203.1" cy="456.9" r="1.7" fill="#fff" stroke="#000000" stroke-width="1.05" fill-opacity="0.75"/>
<circle cx="207.3" cy="456.9" r="1.7" fill="#fff" stroke="#000000" stroke-width="1.05" fill-opacity="0.75"/>
<circle cx="195.5" cy="458.3" r="1.7" fill="#fff" stroke="#000000" stroke-width="1.05" fill-opacity="0.75"/>
<circle cx="191.6" cy="458.7" r="2.1" fill="#000000" stroke="none" stroke-width="1"/>
<circle cx="195.5" cy="460.8" r="2.1" fill="#000000" stroke="none" stroke-width="1"/>
<circle cx="199.6" cy="461.8" r="2.1" fill="#000000" stroke="none" stroke-width="1"/>
<circle cx="203.5" cy="460.5" r="2.1" fill="#000000" stroke="none" stroke-width="1"/>
<circle cx="208" cy="459.8" r="2.1" fill="#000000" stroke="none" stroke-width="1"/>
<circle cx="223.6" cy="450.4" r="1.7" fill="#fff" stroke="#000000" stroke-width="1.05" fill-opacity="0.75"/>
<circle cx="222.5" cy="460.1" r="1.7" fill="#fff" stroke="#000000" stroke-width="1.05" fill-opacity="0.75"/>
<circle cx="214.2" cy="455.3" r="2.1" fill="#000000" stroke="none" stroke-width="1"/>
<circle cx="218.4" cy="457.8" r="2.1" fill="#000000" stroke="none" stroke-width="1"/>
<circle cx="222.5" cy="457.8" r="2.1" fill="#000000" stroke="none" stroke-width="1"/>
<circle cx="226.7" cy="456.9" r="2.1" fill="#000000" stroke="none" stroke-width="1"/>
<circle cx="226.7" cy="451.4" r="2.1" fill="#000000" stroke="none" stroke-width="1"/>
<circle cx="222.5" cy="453.9" r="2.1" fill="#000000" stroke="none" stroke-width="1"/>
<circle cx="245.4" cy="357.7" r="1.7" fill="#fff" stroke="#d81e3c" stroke-width="1.05" fill-opacity="0.75"/>
<circle cx="240.9" cy="369.7" r="1.7" fill="#fff" stroke="#d81e3c" stroke-width="1.05" fill-opacity="0.75"/>
<circle cx="245.4" cy="369.7" r="1.7" fill="#fff" stroke="#d81e3c" stroke-width="1.05" fill-opacity="0.75"/>
<circle cx="245.4" cy="380.4" r="1.7" fill="#fff" stroke="#d81e3c" stroke-width="1.05" fill-opacity="0.75"/>
<circle cx="245.4" cy="396.2" r="2.1" fill="#d81e3c" stroke="none" stroke-width="1"/>
<circle cx="241.4" cy="402.4" r="2.1" fill="#d81e3c" stroke="none" stroke-width="1"/>
<circle cx="248.6" cy="401.9" r="2.1" fill="#d81e3c" stroke="none" stroke-width="1"/>
<circle cx="245.1" cy="404.6" r="2.1" fill="#d81e3c" stroke="none" stroke-width="1"/>
<circle cx="268.4" cy="385.9" r="1.7" fill="#fff" stroke="#d81e3c" stroke-width="1.05" fill-opacity="0.75"/>
<circle cx="270.6" cy="391.9" r="1.7" fill="#fff" stroke="#d81e3c" stroke-width="1.05" fill-opacity="0.75"/>
<circle cx="264.1" cy="394.9" r="1.7" fill="#fff" stroke="#d81e3c" stroke-width="1.05" fill-opacity="0.75"/>
<circle cx="267.9" cy="396.2" r="1.7" fill="#fff" stroke="#d81e3c" stroke-width="1.05" fill-opacity="0.75"/>
<circle cx="268.4" cy="399.7" r="2.1" fill="#d81e3c" stroke="none" stroke-width="1"/>
<circle cx="264.4" cy="406.6" r="2.1" fill="#d81e3c" stroke="none" stroke-width="1"/>
<circle cx="271.1" cy="404.4" r="2.1" fill="#d81e3c" stroke="none" stroke-width="1"/>
<circle cx="268.4" cy="408.1" r="2.1" fill="#d81e3c" stroke="none" stroke-width="1"/>
<circle cx="291.3" cy="379.4" r="1.7" fill="#fff" stroke="#d81e3c" stroke-width="1.05" fill-opacity="0.75"/>
<circle cx="291.3" cy="386.9" r="1.7" fill="#fff" stroke="#d81e3c" stroke-width="1.05" fill-opacity="0.75"/>
<circle cx="291.3" cy="392.9" r="1.7" fill="#fff" stroke="#d81e3c" stroke-width="1.05" fill-opacity="0.75"/>
<circle cx="288.1" cy="391.7" r="2.1" fill="#d81e3c" stroke="none" stroke-width="1"/>
<circle cx="291.3" cy="394.4" r="2.1" fill="#d81e3c" stroke="none" stroke-width="1"/>
<circle cx="286.8" cy="402.9" r="2.1" fill="#d81e3c" stroke="none" stroke-width="1"/>
<circle cx="291.3" cy="403.1" r="2.1" fill="#d81e3c" stroke="none" stroke-width="1"/>
<circle cx="314" cy="406.6" r="1.7" fill="#fff" stroke="#d81e3c" stroke-width="1.05" fill-opacity="0.75"/>
<circle cx="317.3" cy="410.1" r="1.7" fill="#fff" stroke="#d81e3c" stroke-width="1.05" fill-opacity="0.75"/>
<circle cx="309.8" cy="413.1" r="1.7" fill="#fff" stroke="#d81e3c" stroke-width="1.05" fill-opacity="0.75"/>
<circle cx="314" cy="413.6" r="1.7" fill="#fff" stroke="#d81e3c" stroke-width="1.05" fill-opacity="0.75"/>
<circle cx="309.8" cy="422.1" r="2.1" fill="#d81e3c" stroke="none" stroke-width="1"/>
<circle cx="316.3" cy="423.6" r="2.1" fill="#d81e3c" stroke="none" stroke-width="1"/>
<circle cx="312.3" cy="425.4" r="2.1" fill="#d81e3c" stroke="none" stroke-width="1"/>
<circle cx="314" cy="429.6" r="2.1" fill="#d81e3c" stroke="none" stroke-width="1"/>
<circle cx="57.3" cy="546.4" r="1.7" fill="#fff" stroke="#1473b7" stroke-width="1.05" fill-opacity="0.75"/>
<circle cx="61.6" cy="546.9" r="1.7" fill="#fff" stroke="#1473b7" stroke-width="1.05" fill-opacity="0.75"/>
<circle cx="65.8" cy="545.4" r="1.7" fill="#fff" stroke="#1473b7" stroke-width="1.05" fill-opacity="0.75"/>
<circle cx="61.6" cy="504.7" r="2.1" fill="#1473b7" stroke="none" stroke-width="1"/>
<circle cx="62.1" cy="509.7" r="2.1" fill="#1473b7" stroke="none" stroke-width="1"/>
<circle cx="59.3" cy="513.5" r="2.1" fill="#1473b7" stroke="none" stroke-width="1"/>
<circle cx="61.6" cy="517.2" r="2.1" fill="#1473b7" stroke="none" stroke-width="1"/>
<circle cx="76.4" cy="545.1" r="1.7" fill="#fff" stroke="#1473b7" stroke-width="1.05" fill-opacity="0.75"/>
<circle cx="80.2" cy="546.9" r="1.7" fill="#fff" stroke="#1473b7" stroke-width="1.05" fill-opacity="0.75"/>
<circle cx="84.4" cy="547.6" r="1.7" fill="#fff" stroke="#1473b7" stroke-width="1.05" fill-opacity="0.75"/>
<circle cx="88.7" cy="546.6" r="1.7" fill="#fff" stroke="#1473b7" stroke-width="1.05" fill-opacity="0.75"/>
<circle cx="93" cy="546.4" r="1.7" fill="#fff" stroke="#1473b7" stroke-width="1.05" fill-opacity="0.75"/>
<circle cx="79.1" cy="518.7" r="2.1" fill="#1473b7" stroke="none" stroke-width="1"/>
<circle cx="83.2" cy="520" r="2.1" fill="#1473b7" stroke="none" stroke-width="1"/>
<circle cx="87.4" cy="518.5" r="2.1" fill="#1473b7" stroke="none" stroke-width="1"/>
<circle cx="92" cy="517.7" r="2.1" fill="#1473b7" stroke="none" stroke-width="1"/>
<circle cx="84.4" cy="524" r="2.1" fill="#1473b7" stroke="none" stroke-width="1"/>
<circle cx="103" cy="542.4" r="1.7" fill="#fff" stroke="#1473b7" stroke-width="1.05" fill-opacity="0.75"/>
<circle cx="111.8" cy="543.4" r="1.7" fill="#fff" stroke="#1473b7" stroke-width="1.05" fill-opacity="0.75"/>
<circle cx="107.3" cy="544.6" r="1.7" fill="#fff" stroke="#1473b7" stroke-width="1.05" fill-opacity="0.75"/>
<circle cx="109.5" cy="546.6" r="1.7" fill="#fff" stroke="#1473b7" stroke-width="1.05" fill-opacity="0.75"/>
<circle cx="105.8" cy="548.6" r="1.7" fill="#fff" stroke="#1473b7" stroke-width="1.05" fill-opacity="0.75"/>
<circle cx="107.3" cy="552.7" r="1.7" fill="#fff" stroke="#1473b7" stroke-width="1.05" fill-opacity="0.75"/>
<circle cx="110.6" cy="507.2" r="2.1" fill="#1473b7" stroke="none" stroke-width="1"/>
<circle cx="106.8" cy="509.7" r="2.1" fill="#1473b7" stroke="none" stroke-width="1"/>
<circle cx="103.3" cy="512.7" r="2.1" fill="#1473b7" stroke="none" stroke-width="1"/>
<circle cx="110.6" cy="511.7" r="2.1" fill="#1473b7" stroke="none" stroke-width="1"/>
<circle cx="107.3" cy="515.2" r="2.1" fill="#1473b7" stroke="none" stroke-width="1"/>
<circle cx="126.4" cy="541.9" r="1.7" fill="#fff" stroke="#1473b7" stroke-width="1.05" fill-opacity="0.75"/>
<circle cx="130.4" cy="543.4" r="1.7" fill="#fff" stroke="#1473b7" stroke-width="1.05" fill-opacity="0.75"/>
<circle cx="126.4" cy="549.9" r="1.7" fill="#fff" stroke="#1473b7" stroke-width="1.05" fill-opacity="0.75"/>
<circle cx="130.4" cy="550.7" r="1.7" fill="#fff" stroke="#1473b7" stroke-width="1.05" fill-opacity="0.75"/>
<circle cx="126.9" cy="487.6" r="2.1" fill="#1473b7" stroke="none" stroke-width="1"/>
<circle cx="130.4" cy="490.6" r="2.1" fill="#1473b7" stroke="none" stroke-width="1"/>
<circle cx="130.4" cy="495.9" r="2.1" fill="#1473b7" stroke="none" stroke-width="1"/>
<circle cx="153.2" cy="540.4" r="1.7" fill="#fff" stroke="#000000" stroke-width="1.05" fill-opacity="0.75"/>
<circle cx="147.9" cy="545" r="1.7" fill="#fff" stroke="#000000" stroke-width="1.05" fill-opacity="0.75"/>
<circle cx="155.3" cy="545.9" r="1.7" fill="#fff" stroke="#000000" stroke-width="1.05" fill-opacity="0.75"/>
<circle cx="151.8" cy="548" r="1.7" fill="#fff" stroke="#000000" stroke-width="1.05" fill-opacity="0.75"/>
<circle cx="153.2" cy="551.5" r="1.7" fill="#fff" stroke="#000000" stroke-width="1.05" fill-opacity="0.75"/>
<circle cx="153.2" cy="543.9" r="2.1" fill="#000000" stroke="none" stroke-width="1"/>
<circle cx="145.5" cy="551.5" r="2.1" fill="#000000" stroke="none" stroke-width="1"/>
<circle cx="149.7" cy="553.6" r="2.1" fill="#000000" stroke="none" stroke-width="1"/>
<circle cx="153.2" cy="556.1" r="2.1" fill="#000000" stroke="none" stroke-width="1"/>
<circle cx="156.4" cy="552.9" r="2.1" fill="#000000" stroke="none" stroke-width="1"/>
<circle cx="160.1" cy="551.5" r="2.1" fill="#000000" stroke="none" stroke-width="1"/>
<circle cx="171.6" cy="543.9" r="1.7" fill="#fff" stroke="#000000" stroke-width="1.05" fill-opacity="0.75"/>
<circle cx="176.3" cy="543.9" r="1.7" fill="#fff" stroke="#000000" stroke-width="1.05" fill-opacity="0.75"/>
<circle cx="180.5" cy="542.8" r="1.7" fill="#fff" stroke="#000000" stroke-width="1.05" fill-opacity="0.75"/>
<circle cx="180.5" cy="548" r="1.7" fill="#fff" stroke="#000000" stroke-width="1.05" fill-opacity="0.75"/>
<circle cx="171.6" cy="548.4" r="1.7" fill="#fff" stroke="#000000" stroke-width="1.05" fill-opacity="0.75"/>
<circle cx="176.3" cy="549.4" r="1.7" fill="#fff" stroke="#000000" stroke-width="1.05" fill-opacity="0.75"/>
<circle cx="172.6" cy="546.6" r="2.1" fill="#000000" stroke="none" stroke-width="1"/>
<circle cx="176.3" cy="547.3" r="2.1" fill="#000000" stroke="none" stroke-width="1"/>
<circle cx="171.6" cy="554.3" r="2.1" fill="#000000" stroke="none" stroke-width="1"/>
<circle cx="176.1" cy="555" r="2.1" fill="#000000" stroke="none" stroke-width="1"/>
<circle cx="201" cy="544.6" r="1.7" fill="#fff" stroke="#000000" stroke-width="1.05" fill-opacity="0.75"/>
<circle cx="205.5" cy="544.6" r="1.7" fill="#fff" stroke="#000000" stroke-width="1.05" fill-opacity="0.75"/>
<circle cx="194.8" cy="546.9" r="1.7" fill="#fff" stroke="#000000" stroke-width="1.05" fill-opacity="0.75"/>
<circle cx="198.9" cy="548" r="1.7" fill="#fff" stroke="#000000" stroke-width="1.05" fill-opacity="0.75"/>
<circle cx="191.3" cy="546.9" r="2.1" fill="#000000" stroke="none" stroke-width="1"/>
<circle cx="195.1" cy="549.4" r="2.1" fill="#000000" stroke="none" stroke-width="1"/>
<circle cx="198.9" cy="550.8" r="2.1" fill="#000000" stroke="none" stroke-width="1"/>
<circle cx="203.1" cy="548.7" r="2.1" fill="#000000" stroke="none" stroke-width="1"/>
<circle cx="207.3" cy="548" r="2.1" fill="#000000" stroke="none" stroke-width="1"/>
<circle cx="221.8" cy="539.7" r="1.7" fill="#fff" stroke="#000000" stroke-width="1.05" fill-opacity="0.75"/>
<circle cx="221.8" cy="550.8" r="1.7" fill="#fff" stroke="#000000" stroke-width="1.05" fill-opacity="0.75"/>
<circle cx="214.2" cy="545.5" r="2.1" fill="#000000" stroke="none" stroke-width="1"/>
<circle cx="217.9" cy="548" r="2.1" fill="#000000" stroke="none" stroke-width="1"/>
<circle cx="221.8" cy="547.3" r="2.1" fill="#000000" stroke="none" stroke-width="1"/>
<circle cx="226" cy="547.3" r="2.1" fill="#000000" stroke="none" stroke-width="1"/>
<circle cx="217.9" cy="540.4" r="2.1" fill="#000000" stroke="none" stroke-width="1"/>
<circle cx="221.8" cy="543.2" r="2.1" fill="#000000" stroke="none" stroke-width="1"/>
<circle cx="244.9" cy="531.9" r="1.7" fill="#fff" stroke="#d81e3c" stroke-width="1.05" fill-opacity="0.75"/>
<circle cx="240.4" cy="546.6" r="1.7" fill="#fff" stroke="#d81e3c" stroke-width="1.05" fill-opacity="0.75"/>
<circle cx="244.9" cy="546.6" r="1.7" fill="#fff" stroke="#d81e3c" stroke-width="1.05" fill-opacity="0.75"/>
<circle cx="244.9" cy="559.9" r="1.7" fill="#fff" stroke="#d81e3c" stroke-width="1.05" fill-opacity="0.75"/>
<circle cx="244.9" cy="579.1" r="2.1" fill="#d81e3c" stroke="none" stroke-width="1"/>
<circle cx="241.1" cy="586.3" r="2.1" fill="#d81e3c" stroke="none" stroke-width="1"/>
<circle cx="248.1" cy="586.1" r="2.1" fill="#d81e3c" stroke="none" stroke-width="1"/>
<circle cx="244.9" cy="589.1" r="2.1" fill="#d81e3c" stroke="none" stroke-width="1"/>
<circle cx="267.9" cy="538.6" r="1.7" fill="#fff" stroke="#d81e3c" stroke-width="1.05" fill-opacity="0.75"/>
<circle cx="267.9" cy="546.1" r="1.7" fill="#fff" stroke="#d81e3c" stroke-width="1.05" fill-opacity="0.75"/>
<circle cx="263.4" cy="550.1" r="1.7" fill="#fff" stroke="#d81e3c" stroke-width="1.05" fill-opacity="0.75"/>
<circle cx="267.9" cy="550.6" r="1.7" fill="#fff" stroke="#d81e3c" stroke-width="1.05" fill-opacity="0.75"/>
<circle cx="267.9" cy="555.6" r="2.1" fill="#d81e3c" stroke="none" stroke-width="1"/>
<circle cx="267.9" cy="561.6" r="2.1" fill="#d81e3c" stroke="none" stroke-width="1"/>
<circle cx="263.9" cy="564.1" r="2.1" fill="#d81e3c" stroke="none" stroke-width="1"/>
<circle cx="267.9" cy="565.9" r="2.1" fill="#d81e3c" stroke="none" stroke-width="1"/>
<circle cx="290.8" cy="537.9" r="1.7" fill="#fff" stroke="#d81e3c" stroke-width="1.05" fill-opacity="0.75"/>
<circle cx="290.8" cy="547.1" r="1.7" fill="#fff" stroke="#d81e3c" stroke-width="1.05" fill-opacity="0.75"/>
<circle cx="290.8" cy="553.6" r="1.7" fill="#fff" stroke="#d81e3c" stroke-width="1.05" fill-opacity="0.75"/>
<circle cx="287.6" cy="552.4" r="2.1" fill="#d81e3c" stroke="none" stroke-width="1"/>
<circle cx="290.8" cy="556.1" r="2.1" fill="#d81e3c" stroke="none" stroke-width="1"/>
<circle cx="286.6" cy="566.9" r="2.1" fill="#d81e3c" stroke="none" stroke-width="1"/>
<circle cx="290.8" cy="567.4" r="2.1" fill="#d81e3c" stroke="none" stroke-width="1"/>
<circle cx="313.5" cy="541.1" r="1.7" fill="#fff" stroke="#d81e3c" stroke-width="1.05" fill-opacity="0.75"/>
<circle cx="313" cy="545.6" r="1.7" fill="#fff" stroke="#d81e3c" stroke-width="1.05" fill-opacity="0.75"/>
<circle cx="309" cy="548.9" r="1.7" fill="#fff" stroke="#d81e3c" stroke-width="1.05" fill-opacity="0.75"/>
<circle cx="313.5" cy="549.9" r="1.7" fill="#fff" stroke="#d81e3c" stroke-width="1.05" fill-opacity="0.75"/>
<circle cx="309.8" cy="561.9" r="2.1" fill="#d81e3c" stroke="none" stroke-width="1"/>
<circle cx="315" cy="560.4" r="2.1" fill="#d81e3c" stroke="none" stroke-width="1"/>
<circle cx="313.5" cy="564.1" r="2.1" fill="#d81e3c" stroke="none" stroke-width="1"/>
<circle cx="313.5" cy="568.9" r="2.1" fill="#d81e3c" stroke="none" stroke-width="1"/>
<text x="0" y="0" font-size="23.3" text-anchor="start" font-weight="bold" fill="#000" transform="translate(-1.4 361.6) scale(0.97 1)">B</text>
<rect x="456.82" y="348" width="39.11" height="121.6" fill="#eec0b5" opacity="0.85"/>
<rect x="456.82" y="478.8" width="39.11" height="121.5" fill="#eec0b5" opacity="0.85"/>
<path d="M416.6 460.4 L430.49 460.4 L444.38 459.7 L454.8 449.2 L465.22 355.4 L475.64 365.2 L486.06 421.9 L496.48 433.1 L506.9 438 L517.32 440.8 L527.74 443.6 L562.47 451.65 L597.2 456.9 L631.93 459 L666.66 459.7 L666.66 460.4 L631.93 459.7 L597.2 457.95 L562.47 454.1 L527.74 447.1 L517.32 445 L506.9 443.6 L496.48 441.15 L486.06 435.9 L475.64 401.6 L465.22 379.9 L454.8 454.1 L444.38 460.4 L430.49 460.4 L416.6 460.4 Z" fill="#5b7fc2" fill-opacity="0.38" stroke="#5b7fc2" stroke-opacity="0.34" stroke-width="0.8"/>
<path d="M416.6 460.4 L430.49 460.4 L444.38 459.7 L454.8 450.6 L465.22 372.9 L475.64 390.4 L486.06 430.65 L496.48 435.2 L506.9 438 L517.32 438.7 L527.74 440.8 L562.47 448.85 L597.2 455.85 L631.93 458.65 L666.66 459.7 L666.66 460.4 L631.93 459.35 L597.2 457.25 L562.47 451.65 L527.74 445 L517.32 443.6 L506.9 442.9 L496.48 442.2 L486.06 441.15 L475.64 411.4 L465.22 392.15 L454.8 455.5 L444.38 460.4 L430.49 460.4 L416.6 460.4 Z" fill="#555" fill-opacity="0.3" stroke="#555" stroke-opacity="0.27" stroke-width="0.8"/>
<path d="M416.6 460.4 L430.49 460.4 L444.38 458.3 L454.8 442.9 L465.22 371.15 L475.64 393.2 L486.06 432.4 L496.48 435.9 L506.9 435.2 L517.32 435.9 L527.74 438 L562.47 447.45 L597.2 455.5 L631.93 458.3 L666.66 459.7 L666.66 460.4 L631.93 459.7 L597.2 457.6 L562.47 454.1 L527.74 449.9 L517.32 449.2 L506.9 449.9 L496.48 450.6 L486.06 449.9 L475.64 435.9 L465.22 423.65 L454.8 455.5 L444.38 460.4 L430.49 460.4 L416.6 460.4 Z" fill="#e8836a" fill-opacity="0.4" stroke="#e8836a" stroke-opacity="0.36" stroke-width="0.8"/>
<path d="M416.6 460.4 L430.49 460.4 L444.38 460.05 L454.8 452 L465.22 368 L475.64 384.45 L486.06 429.6 L496.48 437.3 L506.9 440.8 L517.32 442.9 L527.74 445.7 L562.47 453.05 L597.2 457.6 L631.93 459.35 L666.66 460.05" fill="none" stroke="#1473b7" stroke-width="2.3" stroke-linejoin="round" stroke-linecap="round"/>
<path d="M416.6 460.4 L430.49 460.4 L444.38 460.05 L454.8 453.4 L465.22 383.05 L475.64 401.95 L486.06 436.25 L496.48 438.7 L506.9 440.45 L517.32 441.15 L527.74 442.9 L562.47 450.25 L597.2 456.55 L631.93 459 L666.66 460.05" fill="none" stroke="#000" stroke-width="2.3" stroke-linejoin="round" stroke-linecap="round"/>
<path d="M416.6 460.4 L430.49 460.4 L444.38 459.7 L454.8 449.55 L465.22 387.95 L475.64 414.55 L486.06 441.5 L496.48 443.25 L506.9 442.2 L517.32 441.85 L527.74 443.95 L562.47 450.95 L597.2 456.55 L631.93 459 L666.66 460.05" fill="none" stroke="#d81e3c" stroke-width="2.3" stroke-linejoin="round" stroke-linecap="round"/>
<path d="M416.6 583.02 L430.49 580.91 L444.38 579.65 L454.8 584.6 L465.22 545.64 L475.64 544.06 L486.06 553.01 L496.48 569.85 L506.9 571.43 L517.32 574.59 L527.74 575.12 L562.47 579.86 L597.2 581.96 L631.93 584.07 L666.66 591.97 L666.66 593.02 L631.93 586.18 L597.2 584.07 L562.47 582.49 L527.74 578.28 L517.32 577.75 L506.9 575.12 L496.48 576.7 L486.06 574.59 L475.64 563.01 L465.22 550.9 L454.8 590.91 L444.38 589.86 L430.49 590.91 L416.6 591.97 Z" fill="#5b7fc2" fill-opacity="0.4" stroke="#5b7fc2" stroke-opacity="0.36" stroke-width="0.8"/>
<path d="M416.6 583.54 L430.49 581.44 L444.38 584.6 L454.8 589.34 L465.22 582.49 L475.64 588.28 L486.06 578.81 L496.48 572.49 L506.9 587.23 L517.32 587.76 L527.74 588.28 L562.47 590.18 L597.2 585.33 L631.93 575.65 L666.66 591.86 L666.66 593.23 L631.93 586.18 L597.2 588.28 L562.47 591.97 L527.74 592.49 L517.32 593.02 L506.9 593.55 L496.48 591.44 L486.06 592.49 L475.64 593.55 L465.22 592.49 L454.8 593.76 L444.38 591.97 L430.49 590.91 L416.6 591.97 Z" fill="#444" fill-opacity="0.4" stroke="#444" stroke-opacity="0.36" stroke-width="0.8"/>
<path d="M416.6 593.65 L430.49 593.65 L444.38 593.65 L454.8 593.65 L465.22 589.76 L475.64 591.44 L486.06 592.92 L496.48 592.18 L506.9 590.81 L517.32 588.49 L527.74 583.02 L562.47 543.53 L597.2 496.14 L631.93 561.43 L666.66 591.65 L666.66 593.02 L631.93 565.12 L597.2 506.15 L562.47 555.64 L527.74 587.76 L517.32 591.44 L506.9 593.02 L496.48 593.76 L486.06 594.07 L475.64 593.55 L465.22 592.49 L454.8 594.39 L444.38 594.39 L430.49 594.39 L416.6 594.39 Z" fill="#e8836a" fill-opacity="0.42" stroke="#e8836a" stroke-opacity="0.38" stroke-width="0.8"/>
<path d="M416.6 590.39 L430.49 588.07 L444.38 586.07 L454.8 588.07 L465.22 549.11 L475.64 555.43 L486.06 566.7 L496.48 573.54 L506.9 573.01 L517.32 576.07 L527.74 576.8 L562.47 581.33 L597.2 583.07 L631.93 585.07 L666.66 592.6" fill="none" stroke="#1473b7" stroke-width="2.3" stroke-linejoin="round" stroke-linecap="round"/>
<path d="M416.6 590.07 L430.49 587.6 L444.38 589.34 L454.8 591.86 L465.22 589.34 L475.64 591.6 L486.06 588.81 L496.48 586.33 L506.9 591.86 L517.32 591.44 L527.74 591.13 L562.47 591.13 L597.2 586.81 L631.93 583.54 L666.66 592.6" fill="none" stroke="#000" stroke-width="2.3" stroke-linejoin="round" stroke-linecap="round"/>
<path d="M416.6 594.07 L430.49 594.07 L444.38 594.07 L454.8 594.07 L465.22 591.13 L475.64 592.49 L486.06 593.55 L496.48 593.02 L506.9 591.97 L517.32 590.07 L527.74 585.54 L562.47 549.9 L597.2 501.41 L631.93 563.48 L666.66 592.39" fill="none" stroke="#d81e3c" stroke-width="2.3" stroke-linejoin="round" stroke-linecap="round"/>
<line x1="456.82" y1="348" x2="456.82" y2="469.6" stroke="#555" stroke-width="1.05" stroke-dasharray="4.2 2.2"/>
<line x1="456.82" y1="478.8" x2="456.82" y2="600.3" stroke="#555" stroke-width="1.05" stroke-dasharray="4.2 2.2"/>
<line x1="495.92" y1="348" x2="495.92" y2="469.6" stroke="#555" stroke-width="1.05" stroke-dasharray="4.2 2.2"/>
<line x1="495.92" y1="478.8" x2="495.92" y2="600.3" stroke="#555" stroke-width="1.05" stroke-dasharray="4.2 2.2"/>
<rect x="404.2" y="348" width="275.2" height="121.6" fill="none" stroke="#000" stroke-width="1.15"/>
<rect x="404.2" y="478.8" width="275.2" height="121.5" fill="none" stroke="#000" stroke-width="1.15"/>
<line x1="399.8" y1="460.4" x2="404.2" y2="460.4" stroke="#000" stroke-width="1.15"/>
<text x="394.4" y="463.9" font-size="9.75" text-anchor="end" font-weight="normal" fill="#000">0</text>
<line x1="399.8" y1="425.4" x2="404.2" y2="425.4" stroke="#000" stroke-width="1.15"/>
<text x="394.4" y="428.9" font-size="9.75" text-anchor="end" font-weight="normal" fill="#000">100</text>
<line x1="399.8" y1="390.4" x2="404.2" y2="390.4" stroke="#000" stroke-width="1.15"/>
<text x="394.4" y="393.9" font-size="9.75" text-anchor="end" font-weight="normal" fill="#000">200</text>
<line x1="399.8" y1="355.4" x2="404.2" y2="355.4" stroke="#000" stroke-width="1.15"/>
<text x="394.4" y="358.9" font-size="9.75" text-anchor="end" font-weight="normal" fill="#000">300</text>
<line x1="399.8" y1="594.6" x2="404.2" y2="594.6" stroke="#000" stroke-width="1.15"/>
<text x="394.7" y="598.1" font-size="9.75" text-anchor="end" font-weight="normal" fill="#000">0</text>
<line x1="399.8" y1="573.54" x2="404.2" y2="573.54" stroke="#000" stroke-width="1.15"/>
<text x="394.7" y="577.04" font-size="9.75" text-anchor="end" font-weight="normal" fill="#000">2000</text>
<line x1="399.8" y1="552.48" x2="404.2" y2="552.48" stroke="#000" stroke-width="1.15"/>
<text x="394.7" y="555.98" font-size="9.75" text-anchor="end" font-weight="normal" fill="#000">4000</text>
<line x1="399.8" y1="531.42" x2="404.2" y2="531.42" stroke="#000" stroke-width="1.15"/>
<text x="394.7" y="534.92" font-size="9.75" text-anchor="end" font-weight="normal" fill="#000">6000</text>
<line x1="399.8" y1="510.36" x2="404.2" y2="510.36" stroke="#000" stroke-width="1.15"/>
<text x="394.7" y="513.86" font-size="9.75" text-anchor="end" font-weight="normal" fill="#000">8000</text>
<line x1="399.8" y1="489.3" x2="404.2" y2="489.3" stroke="#000" stroke-width="1.15"/>
<text x="394.7" y="492.8" font-size="9.75" text-anchor="end" font-weight="normal" fill="#000">10000</text>
<line x1="416.6" y1="469.6" x2="416.6" y2="474" stroke="#000" stroke-width="1.15"/>
<line x1="416.6" y1="600.3" x2="416.6" y2="604.7" stroke="#000" stroke-width="1.15"/>
<text x="416.6" y="617" font-size="9.75" text-anchor="middle" font-weight="normal" fill="#000">500</text>
<line x1="451.33" y1="469.6" x2="451.33" y2="474" stroke="#000" stroke-width="1.15"/>
<line x1="451.33" y1="600.3" x2="451.33" y2="604.7" stroke="#000" stroke-width="1.15"/>
<text x="451.33" y="617" font-size="9.75" text-anchor="middle" font-weight="normal" fill="#000">1000</text>
<line x1="486.06" y1="469.6" x2="486.06" y2="474" stroke="#000" stroke-width="1.15"/>
<line x1="486.06" y1="600.3" x2="486.06" y2="604.7" stroke="#000" stroke-width="1.15"/>
<text x="486.06" y="617" font-size="9.75" text-anchor="middle" font-weight="normal" fill="#000">1500</text>
<line x1="520.79" y1="469.6" x2="520.79" y2="474" stroke="#000" stroke-width="1.15"/>
<line x1="520.79" y1="600.3" x2="520.79" y2="604.7" stroke="#000" stroke-width="1.15"/>
<text x="520.79" y="617" font-size="9.75" text-anchor="middle" font-weight="normal" fill="#000">2000</text>
<line x1="555.52" y1="469.6" x2="555.52" y2="474" stroke="#000" stroke-width="1.15"/>
<line x1="555.52" y1="600.3" x2="555.52" y2="604.7" stroke="#000" stroke-width="1.15"/>
<text x="555.52" y="617" font-size="9.75" text-anchor="middle" font-weight="normal" fill="#000">2500</text>
<line x1="590.25" y1="469.6" x2="590.25" y2="474" stroke="#000" stroke-width="1.15"/>
<line x1="590.25" y1="600.3" x2="590.25" y2="604.7" stroke="#000" stroke-width="1.15"/>
<text x="590.25" y="617" font-size="9.75" text-anchor="middle" font-weight="normal" fill="#000">3000</text>
<line x1="624.98" y1="469.6" x2="624.98" y2="474" stroke="#000" stroke-width="1.15"/>
<line x1="624.98" y1="600.3" x2="624.98" y2="604.7" stroke="#000" stroke-width="1.15"/>
<text x="624.98" y="617" font-size="9.75" text-anchor="middle" font-weight="normal" fill="#000">3500</text>
<line x1="659.71" y1="469.6" x2="659.71" y2="474" stroke="#000" stroke-width="1.15"/>
<line x1="659.71" y1="600.3" x2="659.71" y2="604.7" stroke="#000" stroke-width="1.15"/>
<text x="659.71" y="617" font-size="9.75" text-anchor="middle" font-weight="normal" fill="#000">4000</text>
<text x="541.5" y="631.4" font-size="10" text-anchor="middle" font-weight="normal" fill="#000">Volume (µL)</text>
<text x="0" y="0" font-size="9.85" text-anchor="middle" font-weight="normal" fill="#000" transform="translate(370.5 408.7) rotate(-90)">Cy5 Intensity (AU)</text>
<text x="0" y="0" font-size="9.8" text-anchor="middle" font-weight="normal" fill="#000" transform="translate(359.8 539.7) rotate(-90)">GFP Intensity (AU)</text>
<text x="467" y="360" font-size="8" text-anchor="middle" font-weight="normal" fill="#000">p=0.505</text>
<text x="459.5" y="539.3" font-size="8" text-anchor="middle" font-weight="normal" fill="#000">p=0.002</text>
<text x="591.2" y="493.3" font-size="8" text-anchor="middle" font-weight="normal" fill="#000">p=0.003</text>
<line x1="498" y1="390.6" x2="520.6" y2="374.7" stroke="#000" stroke-width="1.4"/>
<text x="524.3" y="371" font-size="9.75" text-anchor="start" font-weight="normal" fill="#000">Typical liposome</text>
<text x="524.3" y="382.5" font-size="9.75" text-anchor="start" font-weight="normal" fill="#000">elution window</text>
<rect x="609.3" y="354.8" width="61.2" height="45.4" fill="#fff" stroke="#cfcfcf" stroke-width="0.9" rx="1.6"/>
<line x1="612.6" y1="363.6" x2="633.6" y2="363.6" stroke="#1473b7" stroke-width="2"/>
<text x="640.6" y="367.1" font-size="9.9" text-anchor="start" font-weight="normal" fill="#000">AqpZ</text>
<line x1="612.6" y1="377.4" x2="633.6" y2="377.4" stroke="#000" stroke-width="2"/>
<text x="640.6" y="380.9" font-size="9.9" text-anchor="start" font-weight="normal" fill="#000">Blank</text>
<line x1="612.6" y1="391.2" x2="633.6" y2="391.2" stroke="#d81e3c" stroke-width="2"/>
<text x="640.6" y="394.7" font-size="9.9" text-anchor="start" font-weight="normal" fill="#000">Cat</text>
<text x="0" y="0" font-size="23.3" text-anchor="start" font-weight="bold" fill="#000" transform="translate(351.6 362) scale(0.97 1)">C</text>
<clipPath id="clipD"><rect x="49.3" y="634.7" width="274.9" height="150"/></clipPath>
<g clip-path="url(#clipD)">
<path d="M49.3 783.5 L50.28 783.5 L51.26 783.5 L52.24 783.5 L53.22 783.5 L54.2 783.5 L55.18 783.5 L56.16 783.5 L57.14 783.5 L58.12 783.5 L59.1 783.5 L60.08 783.5 L61.06 783.5 L62.04 783.5 L63.02 783.5 L64 783.5 L64.98 783.49 L65.96 783.49 L66.94 783.49 L67.92 783.49 L68.9 783.49 L69.88 783.49 L70.86 783.49 L71.84 783.49 L72.82 783.49 L73.8 783.49 L74.78 783.49 L75.76 783.49 L76.74 783.48 L77.72 783.48 L78.7 783.48 L79.68 783.48 L80.66 783.48 L81.64 783.48 L82.62 783.48 L83.6 783.48 L84.58 783.47 L85.56 783.47 L86.54 783.47 L87.52 783.47 L88.5 783.47 L89.48 783.47 L90.46 783.47 L91.44 783.46 L92.42 783.46 L93.4 783.46 L94.38 783.46 L95.36 783.46 L96.34 783.46 L97.32 783.45 L98.3 783.45 L99.28 783.45 L100.26 783.45 L101.24 783.45 L102.22 783.44 L103.2 783.44 L104.18 783.44 L105.16 783.44 L106.14 783.44 L107.12 783.43 L108.1 783.43 L109.08 783.43 L110.06 783.43 L111.04 783.43 L112.02 783.42 L113 783.42 L113.98 783.42 L114.96 783.42 L115.94 783.41 L116.92 783.41 L117.9 783.41 L118.88 783.41 L119.86 783.4 L120.84 783.4 L121.82 783.4 L122.8 783.39 L123.78 783.39 L124.76 783.39 L125.74 783.39 L126.72 783.38 L127.7 783.38 L128.68 783.38 L129.66 783.38 L130.64 783.37 L131.62 783.37 L132.6 783.37 L133.58 783.36 L134.56 783.36 L135.54 783.36 L136.52 783.35 L137.5 783.35 L138.48 783.35 L139.46 783.34 L140.44 783.34 L141.42 783.34 L142.4 783.33 L143.38 783.33 L144.36 783.33 L145.34 783.32 L146.32 783.32 L147.3 783.32 L148.28 783.31 L149.26 783.31 L150.24 783.31 L151.22 783.3 L152.2 783.3 L153.18 783.3 L154.16 783.29 L155.14 783.29 L156.12 783.29 L157.1 783.28 L158.08 783.28 L159.06 783.27 L160.04 783.27 L161.02 783.27 L162 783.26 L162.98 783.26 L163.96 783.26 L164.94 783.25 L165.92 783.25 L166.9 783.24 L167.88 783.24 L168.86 783.23 L169.84 783.23 L170.82 783.23 L171.8 783.22 L172.78 783.21 L173.76 783.21 L174.74 783.2 L175.72 783.2 L176.7 783.19 L177.68 783.18 L178.66 783.18 L179.64 783.17 L180.62 783.16 L181.6 783.15 L182.58 783.15 L183.56 783.14 L184.54 783.13 L185.52 783.12 L186.5 783.11 L187.48 783.1 L188.46 783.09 L189.44 783.08 L190.42 783.06 L191.4 783.05 L192.38 783.04 L193.36 783.03 L194.34 783.01 L195.32 783 L196.3 782.99 L197.28 782.97 L198.26 782.96 L199.24 782.94 L200.22 782.92 L201.2 782.91 L202.18 782.89 L203.16 782.87 L204.14 782.85 L205.12 782.83 L206.1 782.82 L207.08 782.79 L208.06 782.77 L209.04 782.74 L210.02 782.7 L211 782.66 L211.98 782.62 L212.96 782.57 L213.94 782.52 L214.92 782.46 L215.9 782.4 L216.88 782.34 L217.86 782.27 L218.84 782.2 L219.82 782.12 L220.8 782.04 L221.78 781.96 L222.76 781.86 L223.74 781.74 L224.72 781.59 L225.7 781.43 L226.68 781.25 L227.66 781.05 L228.64 780.85 L229.62 780.63 L230.6 780.41 L231.58 780.18 L232.56 779.96 L233.54 779.74 L234.52 779.52 L235.5 779.3 L236.48 779.08 L237.46 778.86 L238.44 778.64 L239.42 778.4 L240.4 778.15 L241.38 777.88 L242.36 777.59 L243.34 777.28 L244.32 776.94 L245.3 776.57 L246.28 776.14 L247.26 775.64 L248.24 775.08 L249.22 774.44 L250.2 773.73 L251.18 772.97 L252.16 772.13 L253.14 771.19 L254.12 770.08 L255.1 768.8 L256.08 767.39 L257.06 765.85 L258.04 764.19 L259.02 762.32 L260 760.22 L260.98 757.9 L261.96 755.39 L262.94 752.72 L263.92 749.83 L264.9 746.6 L265.88 743.06 L266.86 739.27 L267.84 735.31 L268.82 731.08 L269.8 726.52 L270.78 721.71 L271.76 716.74 L272.74 711.66 L273.72 706.18 L274.7 700.46 L275.68 694.77 L276.66 689.42 L277.64 684.48 L278.62 679.58 L279.6 675.11 L280.58 671.54 L281.56 668.64 L282.54 666.43 L283.52 666.19 L284.5 667.08 L285.48 670 L286.46 674.26 L287.44 679.04 L288.42 684.47 L289.4 690.31 L290.38 696.46 L291.36 703.33 L292.34 710.52 L293.32 717.54 L294.3 724.18 L295.28 730.75 L296.26 737.06 L297.24 742.89 L298.22 748.41 L299.2 753.66 L300.18 758.32 L301.16 762.11 L302.14 765.41 L303.12 768.37 L304.1 770.95 L305.08 773.14 L306.06 774.98 L307.04 776.67 L308.02 778.16 L309 779.37 L309.98 780.22 L310.96 780.82 L311.94 781.34 L312.92 781.79 L313.9 782.17 L314.88 782.48 L315.86 782.71 L316.84 782.88 L317.82 783.02 L318.8 783.15 L319.78 783.27 L320.76 783.36 L321.74 783.44 L322.72 783.48 L323.7 783.5" fill="none" stroke="#1473b7" stroke-width="2.25" stroke-linejoin="round" stroke-linecap="butt"/>
<path d="M49.3 783.5 L50.28 783.5 L51.26 783.5 L52.24 783.5 L53.22 783.5 L54.2 783.5 L55.18 783.5 L56.16 783.5 L57.14 783.5 L58.12 783.5 L59.1 783.5 L60.08 783.5 L61.06 783.5 L62.04 783.5 L63.02 783.5 L64 783.5 L64.98 783.5 L65.96 783.49 L66.94 783.49 L67.92 783.49 L68.9 783.49 L69.88 783.49 L70.86 783.49 L71.84 783.49 L72.82 783.49 L73.8 783.49 L74.78 783.49 L75.76 783.49 L76.74 783.49 L77.72 783.49 L78.7 783.48 L79.68 783.48 L80.66 783.48 L81.64 783.48 L82.62 783.48 L83.6 783.48 L84.58 783.48 L85.56 783.48 L86.54 783.47 L87.52 783.47 L88.5 783.47 L89.48 783.47 L90.46 783.47 L91.44 783.47 L92.42 783.47 L93.4 783.46 L94.38 783.46 L95.36 783.46 L96.34 783.46 L97.32 783.46 L98.3 783.46 L99.28 783.45 L100.26 783.45 L101.24 783.45 L102.22 783.45 L103.2 783.45 L104.18 783.44 L105.16 783.44 L106.14 783.44 L107.12 783.44 L108.1 783.44 L109.08 783.43 L110.06 783.43 L111.04 783.43 L112.02 783.43 L113 783.42 L113.98 783.42 L114.96 783.42 L115.94 783.42 L116.92 783.42 L117.9 783.41 L118.88 783.41 L119.86 783.41 L120.84 783.4 L121.82 783.4 L122.8 783.4 L123.78 783.4 L124.76 783.39 L125.74 783.39 L126.72 783.39 L127.7 783.39 L128.68 783.38 L129.66 783.38 L130.64 783.38 L131.62 783.37 L132.6 783.37 L133.58 783.37 L134.56 783.37 L135.54 783.36 L136.52 783.36 L137.5 783.36 L138.48 783.35 L139.46 783.35 L140.44 783.35 L141.42 783.34 L142.4 783.34 L143.38 783.34 L144.36 783.33 L145.34 783.33 L146.32 783.33 L147.3 783.32 L148.28 783.32 L149.26 783.31 L150.24 783.31 L151.22 783.31 L152.2 783.3 L153.18 783.3 L154.16 783.3 L155.14 783.29 L156.12 783.29 L157.1 783.28 L158.08 783.28 L159.06 783.28 L160.04 783.27 L161.02 783.27 L162 783.26 L162.98 783.26 L163.96 783.26 L164.94 783.25 L165.92 783.25 L166.9 783.24 L167.88 783.24 L168.86 783.23 L169.84 783.23 L170.82 783.22 L171.8 783.22 L172.78 783.21 L173.76 783.2 L174.74 783.19 L175.72 783.18 L176.7 783.18 L177.68 783.17 L178.66 783.16 L179.64 783.15 L180.62 783.13 L181.6 783.12 L182.58 783.11 L183.56 783.1 L184.54 783.08 L185.52 783.07 L186.5 783.06 L187.48 783.04 L188.46 783.02 L189.44 783.01 L190.42 782.99 L191.4 782.97 L192.38 782.96 L193.36 782.94 L194.34 782.92 L195.32 782.9 L196.3 782.88 L197.28 782.86 L198.26 782.84 L199.24 782.82 L200.22 782.79 L201.2 782.77 L202.18 782.75 L203.16 782.72 L204.14 782.7 L205.12 782.67 L206.1 782.64 L207.08 782.61 L208.06 782.58 L209.04 782.54 L210.02 782.5 L211 782.45 L211.98 782.39 L212.96 782.34 L213.94 782.27 L214.92 782.21 L215.9 782.14 L216.88 782.06 L217.86 781.98 L218.84 781.89 L219.82 781.81 L220.8 781.71 L221.78 781.62 L222.76 781.51 L223.74 781.37 L224.72 781.22 L225.7 781.05 L226.68 780.87 L227.66 780.67 L228.64 780.46 L229.62 780.24 L230.6 780.01 L231.58 779.78 L232.56 779.55 L233.54 779.31 L234.52 779.08 L235.5 778.85 L236.48 778.61 L237.46 778.37 L238.44 778.12 L239.42 777.85 L240.4 777.57 L241.38 777.27 L242.36 776.94 L243.34 776.59 L244.32 776.21 L245.3 775.8 L246.28 775.32 L247.26 774.75 L248.24 774.1 L249.22 773.37 L250.2 772.57 L251.18 771.7 L252.16 770.78 L253.14 769.75 L254.12 768.56 L255.1 767.22 L256.08 765.74 L257.06 764.12 L258.04 762.36 L259.02 760.39 L260 758.16 L260.98 755.69 L261.96 753 L262.94 750.07 L263.92 746.86 L264.9 743.16 L265.88 739.05 L266.86 734.58 L267.84 729.83 L268.82 724.6 L269.8 718.8 L270.78 712.63 L271.76 706.29 L272.74 699.52 L273.72 692.44 L274.7 685.4 L275.68 678.62 L276.66 671.79 L277.64 665.57 L278.62 660.26 L279.6 656.38 L280.58 654.93 L281.56 655.96 L282.54 659.39 L283.52 664.64 L284.5 671.79 L285.48 680.01 L286.46 688.18 L287.44 696.66 L288.42 705.29 L289.4 713.53 L290.38 721.55 L291.36 729.3 L292.34 736.87 L293.32 744.35 L294.3 750.92 L295.28 756.32 L296.26 761.18 L297.24 765.37 L298.22 768.7 L299.2 771.46 L300.18 773.82 L301.16 775.74 L302.14 777.19 L303.12 778.42 L304.1 779.48 L305.08 780.35 L306.06 781.02 L307.04 781.51 L308.02 781.94 L309 782.32 L309.98 782.63 L310.96 782.85 L311.94 782.99 L312.92 783.07 L313.9 783.14 L314.88 783.21 L315.86 783.27 L316.84 783.32 L317.82 783.37 L318.8 783.41 L319.78 783.44 L320.76 783.47 L321.74 783.48 L322.72 783.5 L323.7 783.5" fill="none" stroke="#1473b7" stroke-width="2.25" stroke-linejoin="round" stroke-dasharray="8.3 3.6"/>
<path d="M49.3 782.82 L50.28 782.81 L51.26 782.8 L52.24 782.78 L53.22 782.77 L54.2 782.76 L55.18 782.74 L56.16 782.73 L57.14 782.71 L58.12 782.7 L59.1 782.68 L60.08 782.66 L61.06 782.64 L62.04 782.62 L63.02 782.6 L64 782.58 L64.98 782.56 L65.96 782.54 L66.94 782.52 L67.92 782.5 L68.9 782.47 L69.88 782.45 L70.86 782.43 L71.84 782.4 L72.82 782.37 L73.8 782.35 L74.78 782.32 L75.76 782.29 L76.74 782.26 L77.72 782.23 L78.7 782.2 L79.68 782.16 L80.66 782.13 L81.64 782.09 L82.62 782.05 L83.6 782.01 L84.58 781.97 L85.56 781.93 L86.54 781.88 L87.52 781.84 L88.5 781.79 L89.48 781.74 L90.46 781.68 L91.44 781.62 L92.42 781.56 L93.4 781.49 L94.38 781.41 L95.36 781.34 L96.34 781.26 L97.32 781.17 L98.3 781.09 L99.28 781 L100.26 780.9 L101.24 780.81 L102.22 780.71 L103.2 780.61 L104.18 780.51 L105.16 780.4 L106.14 780.29 L107.12 780.19 L108.1 780.08 L109.08 779.96 L110.06 779.85 L111.04 779.73 L112.02 779.6 L113 779.48 L113.98 779.34 L114.96 779.21 L115.94 779.07 L116.92 778.92 L117.9 778.77 L118.88 778.62 L119.86 778.46 L120.84 778.3 L121.82 778.13 L122.8 777.96 L123.78 777.78 L124.76 777.59 L125.74 777.41 L126.72 777.21 L127.7 777.01 L128.68 776.81 L129.66 776.6 L130.64 776.38 L131.62 776.16 L132.6 775.91 L133.58 775.65 L134.56 775.38 L135.54 775.08 L136.52 774.76 L137.5 774.42 L138.48 774.06 L139.46 773.66 L140.44 773.21 L141.42 772.7 L142.4 772.13 L143.38 771.52 L144.36 770.89 L145.34 770.23 L146.32 769.55 L147.3 768.88 L148.28 768.2 L149.26 767.53 L150.24 766.86 L151.22 766.16 L152.2 765.43 L153.18 764.67 L154.16 763.84 L155.14 762.96 L156.12 762 L157.1 760.94 L158.08 759.76 L159.06 758.45 L160.04 757.02 L161.02 755.49 L162 753.85 L162.98 752.1 L163.96 750.27 L164.94 748.34 L165.92 746.29 L166.9 743.94 L167.88 741.34 L168.86 738.57 L169.84 735.69 L170.82 732.77 L171.8 729.71 L172.78 726.49 L173.76 723.15 L174.74 719.75 L175.72 716.32 L176.7 712.74 L177.68 708.93 L178.66 705.08 L179.64 701.4 L180.62 698.08 L181.6 695.23 L182.58 692.6 L183.56 690.37 L184.54 688.71 L185.52 687.81 L186.5 688.79 L187.48 690.2 L188.46 691.96 L189.44 694.12 L190.42 696.76 L191.4 700.14 L192.38 704.09 L193.36 708.41 L194.34 712.86 L195.32 717.29 L196.3 721.96 L197.28 726.92 L198.26 732 L199.24 737.06 L200.22 741.95 L201.2 746.75 L202.18 751.65 L203.16 756.47 L204.14 761.02 L205.12 765.13 L206.1 768.72 L207.08 772.08 L208.06 775.03 L209.04 777.27 L210.02 778.94 L211 780.37 L211.98 781.41 L212.96 781.97 L213.94 782.37 L214.92 782.7 L215.9 782.96 L216.88 783.14 L217.86 783.24 L218.84 783.3 L219.82 783.35 L220.8 783.4 L221.78 783.43 L222.76 783.46 L223.74 783.48 L224.72 783.5 L225.7 783.5 L226.68 783.5 L227.66 783.5 L228.64 783.5 L229.62 783.5 L230.6 783.5 L231.58 783.5 L232.56 783.5 L233.54 783.5 L234.52 783.5 L235.5 783.5 L236.48 783.5 L237.46 783.5 L238.44 783.5 L239.42 783.5 L240.4 783.5 L241.38 783.5 L242.36 783.5 L243.34 783.5 L244.32 783.5 L245.3 783.5 L246.28 783.5 L247.26 783.5 L248.24 783.5 L249.22 783.5 L250.2 783.5 L251.18 783.5 L252.16 783.5 L253.14 783.5 L254.12 783.5 L255.1 783.5 L256.08 783.5 L257.06 783.5 L258.04 783.5 L259.02 783.5 L260 783.5 L260.98 783.5 L261.96 783.5 L262.94 783.5 L263.92 783.5 L264.9 783.5 L265.88 783.5 L266.86 783.5 L267.84 783.5 L268.82 783.5 L269.8 783.5 L270.78 783.5 L271.76 783.5 L272.74 783.5 L273.72 783.5 L274.7 783.5 L275.68 783.5 L276.66 783.5 L277.64 783.5 L278.62 783.5 L279.6 783.5 L280.58 783.5 L281.56 783.5 L282.54 783.5 L283.52 783.5 L284.5 783.5 L285.48 783.5 L286.46 783.5 L287.44 783.5 L288.42 783.5 L289.4 783.5 L290.38 783.5 L291.36 783.5 L292.34 783.5 L293.32 783.5 L294.3 783.5 L295.28 783.5 L296.26 783.5 L297.24 783.5 L298.22 783.5 L299.2 783.5 L300.18 783.5 L301.16 783.5 L302.14 783.5 L303.12 783.5 L304.1 783.5 L305.08 783.5 L306.06 783.5 L307.04 783.5 L308.02 783.5 L309 783.5 L309.98 783.5 L310.96 783.5 L311.94 783.5 L312.92 783.5 L313.9 783.5 L314.88 783.5 L315.86 783.5 L316.84 783.5 L317.82 783.5 L318.8 783.5 L319.78 783.5 L320.76 783.5 L321.74 783.5 L322.72 783.5 L323.7 783.5" fill="none" stroke="#d81e3c" stroke-width="2.25" stroke-linejoin="round" stroke-linecap="butt"/>
<path d="M49.3 782.82 L50.28 782.8 L51.26 782.79 L52.24 782.77 L53.22 782.76 L54.2 782.74 L55.18 782.72 L56.16 782.7 L57.14 782.68 L58.12 782.66 L59.1 782.64 L60.08 782.62 L61.06 782.59 L62.04 782.57 L63.02 782.54 L64 782.52 L64.98 782.49 L65.96 782.47 L66.94 782.44 L67.92 782.41 L68.9 782.39 L69.88 782.36 L70.86 782.33 L71.84 782.3 L72.82 782.27 L73.8 782.24 L74.78 782.21 L75.76 782.18 L76.74 782.14 L77.72 782.11 L78.7 782.07 L79.68 782.03 L80.66 781.99 L81.64 781.95 L82.62 781.91 L83.6 781.87 L84.58 781.82 L85.56 781.77 L86.54 781.72 L87.52 781.67 L88.5 781.62 L89.48 781.56 L90.46 781.5 L91.44 781.43 L92.42 781.36 L93.4 781.28 L94.38 781.2 L95.36 781.12 L96.34 781.03 L97.32 780.93 L98.3 780.84 L99.28 780.74 L100.26 780.64 L101.24 780.53 L102.22 780.42 L103.2 780.31 L104.18 780.2 L105.16 780.09 L106.14 779.97 L107.12 779.85 L108.1 779.73 L109.08 779.61 L110.06 779.49 L111.04 779.36 L112.02 779.23 L113 779.09 L113.98 778.95 L114.96 778.81 L115.94 778.66 L116.92 778.51 L117.9 778.35 L118.88 778.19 L119.86 778.03 L120.84 777.86 L121.82 777.68 L122.8 777.5 L123.78 777.32 L124.76 777.13 L125.74 776.93 L126.72 776.73 L127.7 776.52 L128.68 776.31 L129.66 776.09 L130.64 775.87 L131.62 775.63 L132.6 775.38 L133.58 775.11 L134.56 774.82 L135.54 774.51 L136.52 774.18 L137.5 773.84 L138.48 773.46 L139.46 773.06 L140.44 772.61 L141.42 772.1 L142.4 771.55 L143.38 770.95 L144.36 770.33 L145.34 769.69 L146.32 769.03 L147.3 768.36 L148.28 767.69 L149.26 767.03 L150.24 766.37 L151.22 765.68 L152.2 764.96 L153.18 764.19 L154.16 763.37 L155.14 762.47 L156.12 761.49 L157.1 760.39 L158.08 759.08 L159.06 757.58 L160.04 755.92 L161.02 754.15 L162 752.3 L162.98 750.39 L163.96 748.48 L164.94 746.58 L165.92 744.72 L166.9 742.79 L167.88 740.7 L168.86 738.17 L169.84 735.17 L170.82 732.02 L171.8 729.02 L172.78 726.5 L173.76 724.75 L174.74 723.79 L175.72 723.04 L176.7 722.47 L177.68 722.09 L178.66 721.87 L179.64 721.72 L180.62 721.73 L181.6 721.93 L182.58 722.21 L183.56 722.53 L184.54 722.95 L185.52 723.46 L186.5 724.05 L187.48 724.79 L188.46 725.68 L189.44 726.72 L190.42 727.87 L191.4 729.13 L192.38 730.46 L193.36 731.85 L194.34 733.44 L195.32 735.3 L196.3 737.34 L197.28 739.48 L198.26 741.64 L199.24 743.74 L200.22 745.69 L201.2 747.53 L202.18 749.38 L203.16 751.21 L204.14 753 L205.12 754.7 L206.1 756.29 L207.08 757.75 L208.06 759.07 L209.04 760.3 L210.02 761.45 L211 762.54 L211.98 763.58 L212.96 764.59 L213.94 765.56 L214.92 766.53 L215.9 767.49 L216.88 768.42 L217.86 769.32 L218.84 770.18 L219.82 770.99 L220.8 771.73 L221.78 772.4 L222.76 773.02 L223.74 773.6 L224.72 774.14 L225.7 774.65 L226.68 775.15 L227.66 775.63 L228.64 776.1 L229.62 776.61 L230.6 777.13 L231.58 777.63 L232.56 778.06 L233.54 778.38" fill="none" stroke="#d81e3c" stroke-width="2.25" stroke-linejoin="round" stroke-dasharray="8.3 3.6"/>
<path d="M49.3 774.51 L50.28 774.18 L51.26 773.85 L52.24 773.51 L53.22 773.18 L54.2 772.84 L55.18 772.5 L56.16 772.16 L57.14 771.82 L58.12 771.48 L59.1 771.14 L60.08 770.8 L61.06 770.45 L62.04 770.11 L63.02 769.76 L64 769.42 L64.98 769.07 L65.96 768.72 L66.94 768.37 L67.92 768.02 L68.9 767.66 L69.88 767.31 L70.86 766.95 L71.84 766.59 L72.82 766.22 L73.8 765.85 L74.78 765.48 L75.76 765.1 L76.74 764.73 L77.72 764.35 L78.7 763.98 L79.68 763.61 L80.66 763.23 L81.64 762.86 L82.62 762.5 L83.6 762.13 L84.58 761.77 L85.56 761.42 L86.54 761.07 L87.52 760.73 L88.5 760.39 L89.48 760.05 L90.46 759.71 L91.44 759.37 L92.42 759.02 L93.4 758.68 L94.38 758.34 L95.36 758 L96.34 757.67 L97.32 757.35 L98.3 757.03 L99.28 756.73 L100.26 756.44 L101.24 756.16 L102.22 755.9 L103.2 755.65 L104.18 755.42 L105.16 755.21 L106.14 754.99 L107.12 754.78 L108.1 754.58 L109.08 754.38 L110.06 754.19 L111.04 754.02 L112.02 753.85 L113 753.7 L113.98 753.57 L114.96 753.46 L115.94 753.37 L116.92 753.29 L117.9 753.21 L118.88 753.14 L119.86 753.08 L120.84 753.04 L121.82 753.03 L122.8 753.04 L123.78 753.09 L124.76 753.17 L125.74 753.27 L126.72 753.39 L127.7 753.52 L128.68 753.66 L129.66 753.8 L130.64 753.95 L131.62 754.13 L132.6 754.35 L133.58 754.59 L134.56 754.87 L135.54 755.15 L136.52 755.46 L137.5 755.77 L138.48 756.09 L139.46 756.41 L140.44 756.75 L141.42 757.11 L142.4 757.49 L143.38 757.89 L144.36 758.29 L145.34 758.71 L146.32 759.12 L147.3 759.54 L148.28 759.95 L149.26 760.37 L150.24 760.79 L151.22 761.21 L152.2 761.65 L153.18 762.09 L154.16 762.53 L155.14 762.99 L156.12 763.45 L157.1 763.93 L158.08 764.42 L159.06 764.93 L160.04 765.44 L161.02 765.97 L162 766.49 L162.98 767.02 L163.96 767.54 L164.94 768.06 L165.92 768.57 L166.9 769.09 L167.88 769.61 L168.86 770.13 L169.84 770.65 L170.82 771.16 L171.8 771.66 L172.78 772.14 L173.76 772.59 L174.74 773.02 L175.72 773.44 L176.7 773.84 L177.68 774.24 L178.66 774.62 L179.64 774.99 L180.62 775.36 L181.6 775.71 L182.58 776.07 L183.56 776.42 L184.54 776.77 L185.52 777.12 L186.5 777.46 L187.48 777.8 L188.46 778.12 L189.44 778.43 L190.42 778.73 L191.4 779 L192.38 779.25 L193.36 779.49 L194.34 779.73 L195.32 779.95 L196.3 780.16 L197.28 780.36 L198.26 780.56 L199.24 780.74 L200.22 780.92 L201.2 781.09 L202.18 781.25 L203.16 781.41 L204.14 781.56 L205.12 781.71 L206.1 781.85 L207.08 781.98 L208.06 782.1 L209.04 782.21" fill="none" stroke="#000" stroke-width="2.25" stroke-linejoin="round" stroke-dasharray="8.3 3.6"/>
<path d="M49.3 775.11 L50.28 774.84 L51.26 774.56 L52.24 774.28 L53.22 773.99 L54.2 773.71 L55.18 773.42 L56.16 773.13 L57.14 772.83 L58.12 772.54 L59.1 772.24 L60.08 771.94 L61.06 771.63 L62.04 771.33 L63.02 771.02 L64 770.71 L64.98 770.39 L65.96 770.08 L66.94 769.76 L67.92 769.44 L68.9 769.12 L69.88 768.79 L70.86 768.46 L71.84 768.12 L72.82 767.78 L73.8 767.43 L74.78 767.07 L75.76 766.72 L76.74 766.36 L77.72 766 L78.7 765.64 L79.68 765.28 L80.66 764.91 L81.64 764.55 L82.62 764.19 L83.6 763.84 L84.58 763.48 L85.56 763.13 L86.54 762.78 L87.52 762.44 L88.5 762.1 L89.48 761.76 L90.46 761.42 L91.44 761.07 L92.42 760.72 L93.4 760.37 L94.38 760.02 L95.36 759.67 L96.34 759.33 L97.32 758.99 L98.3 758.66 L99.28 758.34 L100.26 758.04 L101.24 757.74 L102.22 757.47 L103.2 757.21 L104.18 756.96 L105.16 756.73 L106.14 756.5 L107.12 756.27 L108.1 756.05 L109.08 755.84 L110.06 755.63 L111.04 755.44 L112.02 755.26 L113 755.1 L113.98 754.96 L114.96 754.84 L115.94 754.74 L116.92 754.65 L117.9 754.57 L118.88 754.49 L119.86 754.41 L120.84 754.35 L121.82 754.3 L122.8 754.26 L123.78 754.23 L124.76 754.23 L125.74 754.25 L126.72 754.29 L127.7 754.35 L128.68 754.43 L129.66 754.52 L130.64 754.61 L131.62 754.75 L132.6 754.93 L133.58 755.15 L134.56 755.4 L135.54 755.67 L136.52 755.95 L137.5 756.24 L138.48 756.53 L139.46 756.82 L140.44 757.14 L141.42 757.47 L142.4 757.82 L143.38 758.19 L144.36 758.57 L145.34 758.96 L146.32 759.34 L147.3 759.72 L148.28 760.1 L149.26 760.47 L150.24 760.85 L151.22 761.22 L152.2 761.6 L153.18 761.99 L154.16 762.39 L155.14 762.79 L156.12 763.21 L157.1 763.65 L158.08 764.1 L159.06 764.57 L160.04 765.06 L161.02 765.55 L162 766.05 L162.98 766.56 L163.96 767.06 L164.94 767.55 L165.92 768.05 L166.9 768.55 L167.88 769.07 L168.86 769.58 L169.84 770.1 L170.82 770.6 L171.8 771.09 L172.78 771.56 L173.76 772 L174.74 772.41 L175.72 772.8 L176.7 773.19 L177.68 773.55 L178.66 773.91 L179.64 774.26 L180.62 774.59 L181.6 774.91 L182.58 775.22 L183.56 775.52 L184.54 775.82 L185.52 776.1 L186.5 776.38 L187.48 776.64 L188.46 776.9 L189.44 777.15 L190.42 777.4 L191.4 777.63 L192.38 777.86 L193.36 778.08 L194.34 778.3 L195.32 778.51 L196.3 778.71 L197.28 778.91 L198.26 779.1 L199.24 779.28 L200.22 779.46 L201.2 779.63 L202.18 779.8 L203.16 779.96 L204.14 780.12 L205.12 780.27 L206.1 780.42 L207.08 780.56 L208.06 780.7 L209.04 780.84 L210.02 780.98 L211 781.11 L211.98 781.25 L212.96 781.38 L213.94 781.51 L214.92 781.63 L215.9 781.75 L216.88 781.86 L217.86 781.96 L218.84 782.05 L219.82 782.15 L220.8 782.23 L221.78 782.32 L222.76 782.4 L223.74 782.47 L224.72 782.54 L225.7 782.6 L226.68 782.65 L227.66 782.71 L228.64 782.76 L229.62 782.81 L230.6 782.86 L231.58 782.91 L232.56 782.96 L233.54 782.99 L234.52 783.03 L235.5 783.05 L236.48 783.07 L237.46 783.07 L238.44 783.07 L239.42 783.07 L240.4 783.07 L241.38 783.07 L242.36 783.07 L243.34 783.07 L244.32 783.06 L245.3 783.06 L246.28 783.06 L247.26 783.06 L248.24 783.05 L249.22 783.05 L250.2 783.04 L251.18 783.04 L252.16 783.04 L253.14 783.03 L254.12 783.03 L255.1 783.02 L256.08 783.02 L257.06 783.01 L258.04 783.01 L259.02 783 L260 782.99 L260.98 782.99 L261.96 782.98 L262.94 782.96 L263.92 782.94 L264.9 782.91 L265.88 782.87 L266.86 782.84 L267.84 782.8 L268.82 782.76 L269.8 782.71 L270.78 782.67 L271.76 782.63 L272.74 782.59 L273.72 782.55 L274.7 782.51 L275.68 782.47 L276.66 782.45 L277.64 782.42 L278.62 782.4 L279.6 782.39 L280.58 782.39 L281.56 782.39 L282.54 782.4 L283.52 782.42 L284.5 782.44 L285.48 782.47 L286.46 782.51 L287.44 782.54 L288.42 782.58 L289.4 782.63 L290.38 782.67 L291.36 782.72 L292.34 782.76 L293.32 782.81 L294.3 782.85 L295.28 782.9 L296.26 782.94 L297.24 782.98 L298.22 783.01 L299.2 783.05 L300.18 783.07 L301.16 783.1 L302.14 783.12 L303.12 783.14 L304.1 783.16 L305.08 783.19 L306.06 783.21 L307.04 783.23 L308.02 783.25 L309 783.27 L309.98 783.29 L310.96 783.31 L311.94 783.33 L312.92 783.35 L313.9 783.37 L314.88 783.38 L315.86 783.4 L316.84 783.42 L317.82 783.43 L318.8 783.44 L319.78 783.46 L320.76 783.47 L321.74 783.48 L322.72 783.49 L323.7 783.5" fill="none" stroke="#000" stroke-width="2.25" stroke-linejoin="round" stroke-linecap="butt"/>
</g>
<rect x="49.3" y="634.7" width="274.9" height="148.8" fill="none" stroke="#000" stroke-width="1.15"/>
<line x1="44.9" y1="783.5" x2="49.3" y2="783.5" stroke="#000" stroke-width="1.15"/>
<text x="39.3" y="787" font-size="9.75" text-anchor="end" font-weight="normal" fill="#000">0.00</text>
<line x1="44.9" y1="762.1" x2="49.3" y2="762.1" stroke="#000" stroke-width="1.15"/>
<text x="39.3" y="765.6" font-size="9.75" text-anchor="end" font-weight="normal" fill="#000">0.25</text>
<line x1="44.9" y1="740.7" x2="49.3" y2="740.7" stroke="#000" stroke-width="1.15"/>
<text x="39.3" y="744.2" font-size="9.75" text-anchor="end" font-weight="normal" fill="#000">0.50</text>
<line x1="44.9" y1="719.3" x2="49.3" y2="719.3" stroke="#000" stroke-width="1.15"/>
<text x="39.3" y="722.8" font-size="9.75" text-anchor="end" font-weight="normal" fill="#000">0.75</text>
<line x1="44.9" y1="697.9" x2="49.3" y2="697.9" stroke="#000" stroke-width="1.15"/>
<text x="39.3" y="701.4" font-size="9.75" text-anchor="end" font-weight="normal" fill="#000">1.00</text>
<line x1="44.9" y1="676.5" x2="49.3" y2="676.5" stroke="#000" stroke-width="1.15"/>
<text x="39.3" y="680" font-size="9.75" text-anchor="end" font-weight="normal" fill="#000">1.25</text>
<line x1="44.9" y1="655.1" x2="49.3" y2="655.1" stroke="#000" stroke-width="1.15"/>
<text x="39.3" y="658.6" font-size="9.75" text-anchor="end" font-weight="normal" fill="#000">1.50</text>
<line x1="49.3" y1="783.5" x2="49.3" y2="787.9" stroke="#000" stroke-width="1.15"/>
<text x="49.3" y="800.5" font-size="9.75" text-anchor="middle" font-weight="normal" fill="#000">−4</text>
<line x1="88.5" y1="783.5" x2="88.5" y2="787.9" stroke="#000" stroke-width="1.15"/>
<text x="88.5" y="800.5" font-size="9.75" text-anchor="middle" font-weight="normal" fill="#000">−3</text>
<line x1="127.7" y1="783.5" x2="127.7" y2="787.9" stroke="#000" stroke-width="1.15"/>
<text x="127.7" y="800.5" font-size="9.75" text-anchor="middle" font-weight="normal" fill="#000">−2</text>
<line x1="166.9" y1="783.5" x2="166.9" y2="787.9" stroke="#000" stroke-width="1.15"/>
<text x="166.9" y="800.5" font-size="9.75" text-anchor="middle" font-weight="normal" fill="#000">−1</text>
<line x1="206.1" y1="783.5" x2="206.1" y2="787.9" stroke="#000" stroke-width="1.15"/>
<text x="206.1" y="800.5" font-size="9.75" text-anchor="middle" font-weight="normal" fill="#000">0</text>
<line x1="245.3" y1="783.5" x2="245.3" y2="787.9" stroke="#000" stroke-width="1.15"/>
<text x="245.3" y="800.5" font-size="9.75" text-anchor="middle" font-weight="normal" fill="#000">1</text>
<line x1="284.5" y1="783.5" x2="284.5" y2="787.9" stroke="#000" stroke-width="1.15"/>
<text x="284.5" y="800.5" font-size="9.75" text-anchor="middle" font-weight="normal" fill="#000">2</text>
<line x1="323.7" y1="783.5" x2="323.7" y2="787.9" stroke="#000" stroke-width="1.15"/>
<text x="323.7" y="800.5" font-size="9.75" text-anchor="middle" font-weight="normal" fill="#000">3</text>
<text x="186.5" y="814.8" font-size="9.9" text-anchor="middle" font-weight="normal" fill="#000">log(GFP / Cy5)</text>
<text x="0" y="0" font-size="10.9" text-anchor="middle" font-weight="normal" fill="#000" transform="translate(14.6 713.2) rotate(-90)">Normalized Density</text>
<line x1="124.9" y1="646.3" x2="278.8" y2="646.3" stroke="#222" stroke-width="1.2"/>
<line x1="183.3" y1="658" x2="278.8" y2="658" stroke="#222" stroke-width="1.2"/>
<line x1="106.3" y1="743.3" x2="179" y2="743.3" stroke="#222" stroke-width="1.2"/>
<text x="201.5" y="643.3" font-size="8" text-anchor="middle" font-weight="normal" fill="#000">p&lt;10<tspan font-size="4.8" dy="-2.8">-9</tspan></text>
<text x="231.2" y="655" font-size="8" text-anchor="middle" font-weight="normal" fill="#000">p&lt;10<tspan font-size="4.8" dy="-2.8">-8</tspan></text>
<text x="140" y="739.2" font-size="8" text-anchor="middle" font-weight="normal" fill="#000">p=0.002</text>
<rect x="57.8" y="653.1" width="88.4" height="69.1" fill="#fff" stroke="#cfcfcf" stroke-width="0.9" rx="1.6"/>
<line x1="60.3" y1="661.4" x2="81.7" y2="661.4" stroke="#1473b7" stroke-width="2"/>
<text x="89.7" y="664.9" font-size="9.9" text-anchor="start" font-weight="normal" fill="#000">AqpZ</text>
<line x1="60.3" y1="674.4" x2="81.7" y2="674.4" stroke="#000" stroke-width="2"/>
<text x="89.7" y="677.9" font-size="9.9" text-anchor="start" font-weight="normal" fill="#000">Blank</text>
<line x1="60.3" y1="687.4" x2="81.7" y2="687.4" stroke="#d81e3c" stroke-width="2"/>
<text x="89.7" y="690.9" font-size="9.9" text-anchor="start" font-weight="normal" fill="#000">Cat</text>
<line x1="60.3" y1="700.4" x2="81.7" y2="700.4" stroke="#111" stroke-width="2" stroke-dasharray="8.4 3.4"/>
<text x="89.7" y="703.9" font-size="9.9" text-anchor="start" font-weight="normal" fill="#000">Pre-SEC</text>
<line x1="60.3" y1="713.4" x2="81.7" y2="713.4" stroke="#111" stroke-width="2"/>
<text x="89.7" y="716.9" font-size="9.9" text-anchor="start" font-weight="normal" fill="#000">Post-SEC</text>
<text x="0" y="0" font-size="23.3" text-anchor="start" font-weight="bold" fill="#000" transform="translate(-1.5 650.5) scale(0.97 1)">D</text>
<circle cx="432.9" cy="760.4" r="3.35" fill="#000" stroke="none" stroke-width="1"/>
<circle cx="471.4" cy="745.3" r="3.35" fill="#000" stroke="none" stroke-width="1"/>
<circle cx="473.9" cy="723" r="3.35" fill="#000" stroke="none" stroke-width="1"/>
<circle cx="472.6" cy="778.5" r="3.35" fill="#000" stroke="none" stroke-width="1"/>
<circle cx="504.6" cy="724" r="3.35" fill="#000" stroke="none" stroke-width="1"/>
<circle cx="540.9" cy="726.5" r="3.35" fill="#000" stroke="none" stroke-width="1"/>
<circle cx="558.2" cy="691.8" r="3.35" fill="#000" stroke="none" stroke-width="1"/>
<circle cx="593.7" cy="704.4" r="3.35" fill="#000" stroke="none" stroke-width="1"/>
<circle cx="602.2" cy="665.7" r="3.35" fill="#000" stroke="none" stroke-width="1"/>
<circle cx="629.6" cy="671.5" r="3.35" fill="#000" stroke="none" stroke-width="1"/>
<circle cx="635.6" cy="657.4" r="3.35" fill="#000" stroke="none" stroke-width="1"/>
<circle cx="660.5" cy="680" r="3.35" fill="#000" stroke="none" stroke-width="1"/>
<line x1="421.6" y1="768.2" x2="670.8" y2="653.9" stroke="#7f7f7f" stroke-width="2" stroke-dasharray="7.4 3.2"/>
<rect x="409.3" y="648.1" width="275.1" height="136.2" fill="none" stroke="#000" stroke-width="1.15"/>
<line x1="404.9" y1="650.22" x2="409.3" y2="650.22" stroke="#000" stroke-width="1.15"/>
<text x="400.3" y="653.72" font-size="9.75" text-anchor="end" font-weight="normal" fill="#000">2.0</text>
<line x1="404.9" y1="671.49" x2="409.3" y2="671.49" stroke="#000" stroke-width="1.15"/>
<text x="400.3" y="674.99" font-size="9.75" text-anchor="end" font-weight="normal" fill="#000">1.5</text>
<line x1="404.9" y1="692.76" x2="409.3" y2="692.76" stroke="#000" stroke-width="1.15"/>
<text x="400.3" y="696.26" font-size="9.75" text-anchor="end" font-weight="normal" fill="#000">1.0</text>
<line x1="404.9" y1="714.03" x2="409.3" y2="714.03" stroke="#000" stroke-width="1.15"/>
<text x="400.3" y="717.53" font-size="9.75" text-anchor="end" font-weight="normal" fill="#000">0.5</text>
<line x1="404.9" y1="735.3" x2="409.3" y2="735.3" stroke="#000" stroke-width="1.15"/>
<text x="400.3" y="738.8" font-size="9.75" text-anchor="end" font-weight="normal" fill="#000">0.0</text>
<line x1="404.9" y1="756.57" x2="409.3" y2="756.57" stroke="#000" stroke-width="1.15"/>
<text x="400.3" y="760.07" font-size="9.75" text-anchor="end" font-weight="normal" fill="#000">−0.5</text>
<line x1="404.9" y1="777.84" x2="409.3" y2="777.84" stroke="#000" stroke-width="1.15"/>
<text x="400.3" y="781.34" font-size="9.75" text-anchor="end" font-weight="normal" fill="#000">−1.0</text>
<line x1="432.9" y1="784.3" x2="432.9" y2="788.7" stroke="#000" stroke-width="1.15"/>
<text x="432.9" y="801.2" font-size="9.75" text-anchor="middle" font-weight="normal" fill="#000">4</text>
<line x1="477.26" y1="784.3" x2="477.26" y2="788.7" stroke="#000" stroke-width="1.15"/>
<text x="477.26" y="801.2" font-size="9.75" text-anchor="middle" font-weight="normal" fill="#000">6</text>
<line x1="521.62" y1="784.3" x2="521.62" y2="788.7" stroke="#000" stroke-width="1.15"/>
<text x="521.62" y="801.2" font-size="9.75" text-anchor="middle" font-weight="normal" fill="#000">8</text>
<line x1="565.98" y1="784.3" x2="565.98" y2="788.7" stroke="#000" stroke-width="1.15"/>
<text x="565.98" y="801.2" font-size="9.75" text-anchor="middle" font-weight="normal" fill="#000">10</text>
<line x1="610.34" y1="784.3" x2="610.34" y2="788.7" stroke="#000" stroke-width="1.15"/>
<text x="610.34" y="801.2" font-size="9.75" text-anchor="middle" font-weight="normal" fill="#000">12</text>
<line x1="654.7" y1="784.3" x2="654.7" y2="788.7" stroke="#000" stroke-width="1.15"/>
<text x="654.7" y="801.2" font-size="9.75" text-anchor="middle" font-weight="normal" fill="#000">14</text>
<text x="546.5" y="815.1" font-size="9.75" text-anchor="middle" font-weight="normal" fill="#000">Plate reader (pmol)</text>
<text x="0" y="0" font-size="9.75" text-anchor="middle" font-weight="normal" fill="#000" transform="translate(373.7 716.5) rotate(-90)">log(GFP / Cy5)</text>
<text x="423.4" y="665.8" font-size="10.6" text-anchor="start" font-weight="normal" fill="#000">R<tspan font-size="5.4" dy="-3.6">2</tspan><tspan dy="3.6"> = 0.898</tspan></text>
<text x="0" y="0" font-size="23.3" text-anchor="start" font-weight="bold" fill="#000" transform="translate(351.9 650.9) scale(0.97 1)">E</text>
</svg>
</body></html>
